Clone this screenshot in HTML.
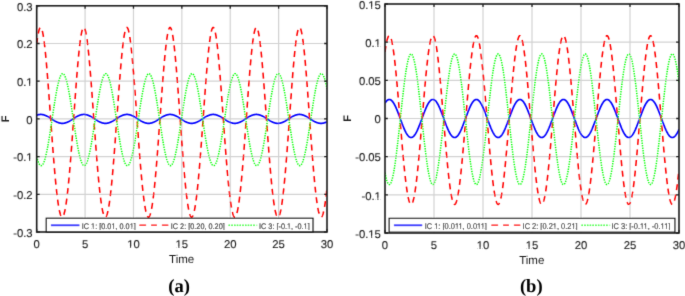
<!DOCTYPE html>
<html><head><meta charset="utf-8"><title>F vs Time</title>
<style>html,body{margin:0;padding:0;background:#fff;width:685px;height:296px;overflow:hidden}
svg{display:block;font-family:"Liberation Sans", sans-serif}</style></head>
<body>
<svg width="685" height="296" viewBox="0 0 685 296" text-rendering="geometricPrecision" font-family='"Liberation Sans", sans-serif'>
<defs><clipPath id="clipa"><rect x="36.7" y="5.8" width="290.3" height="226.2"/></clipPath><clipPath id="clipb"><rect x="385" y="4" width="294" height="229"/></clipPath><clipPath id="legclip"><rect x="0" y="200" width="685" height="29.9"/></clipPath><filter id="soft" x="0" y="0" width="685" height="296" filterUnits="userSpaceOnUse"><feConvolveMatrix order="3" kernelMatrix="0.0113 0.0838 0.0113 0.0838 0.6193 0.0838 0.0113 0.0838 0.0113" edgeMode="none"/></filter></defs>
<rect width="685" height="296" fill="#fff"/>
<g filter="url(#soft)">
<path d="M85.08 5.8V232M133.47 5.8V232M181.85 5.8V232M230.23 5.8V232M278.62 5.8V232M36.7 194.3H327M36.7 156.6H327M36.7 118.9H327M36.7 81.2H327M36.7 43.5H327" stroke="#d2d2d2" stroke-width="1.2" fill="none"/>
<path d="M36.7 115.21L36.89 115.14L37.09 115.08L37.28 115.01L37.47 114.95L37.67 114.9L37.86 114.84L38.05 114.79L38.25 114.75L38.44 114.7L38.64 114.66L38.83 114.63L39.02 114.59L39.22 114.56L39.41 114.54L39.6 114.51L39.8 114.5L39.99 114.48L40.18 114.47L40.38 114.46L40.57 114.45L40.76 114.45L40.96 114.45L41.15 114.46L41.34 114.47L41.54 114.48L41.73 114.5L41.93 114.51L42.12 114.54L42.31 114.56L42.51 114.59L42.7 114.63L42.89 114.66L43.09 114.7L43.28 114.75L43.47 114.79L43.67 114.84L43.86 114.9L44.05 114.95L44.25 115.01L44.44 115.08L44.63 115.14L44.83 115.21L45.02 115.28L45.22 115.36L45.41 115.43L45.6 115.51L45.8 115.6L45.99 115.68L46.18 115.77L46.38 115.86L46.57 115.95L46.76 116.05L46.96 116.14L47.15 116.24L47.34 116.35L47.54 116.45L47.73 116.55L47.92 116.66L48.12 116.77L48.31 116.88L48.51 117L48.7 117.11L48.89 117.22L49.09 117.34L49.28 117.46L49.47 117.58L49.67 117.7L49.86 117.82L50.05 117.94L50.25 118.07L50.44 118.19L50.63 118.31L50.83 118.44L51.02 118.56L51.22 118.69L51.41 118.81L51.6 118.94L51.8 119.06L51.99 119.19L52.18 119.32L52.38 119.44L52.57 119.56L52.76 119.69L52.96 119.81L53.15 119.93L53.34 120.06L53.54 120.18L53.73 120.3L53.92 120.41L54.12 120.53L54.31 120.65L54.51 120.76L54.7 120.88L54.89 120.99L55.09 121.1L55.28 121.21L55.47 121.31L55.67 121.42L55.86 121.52L56.05 121.62L56.25 121.72L56.44 121.81L56.63 121.91L56.83 122L57.02 122.09L57.21 122.17L57.41 122.26L57.6 122.34L57.8 122.42L57.99 122.49L58.18 122.56L58.38 122.63L58.57 122.7L58.76 122.76L58.96 122.82L59.15 122.88L59.34 122.94L59.54 122.99L59.73 123.04L59.92 123.08L60.12 123.12L60.31 123.16L60.5 123.19L60.7 123.23L60.89 123.25L61.09 123.28L61.28 123.3L61.47 123.31L61.67 123.33L61.86 123.34L62.05 123.35L62.25 123.35L62.44 123.35L62.63 123.34L62.83 123.34L63.02 123.33L63.21 123.31L63.41 123.29L63.6 123.27L63.79 123.25L63.99 123.22L64.18 123.19L64.38 123.15L64.57 123.11L64.76 123.07L64.96 123.02L65.15 122.98L65.34 122.92L65.54 122.87L65.73 122.81L65.92 122.75L66.12 122.68L66.31 122.62L66.5 122.55L66.7 122.47L66.89 122.4L67.08 122.32L67.28 122.24L67.47 122.15L67.67 122.06L67.86 121.98L68.05 121.88L68.25 121.79L68.44 121.69L68.63 121.59L68.83 121.49L69.02 121.39L69.21 121.29L69.41 121.18L69.6 121.07L69.79 120.96L69.99 120.85L70.18 120.73L70.37 120.62L70.57 120.5L70.76 120.38L70.96 120.27L71.15 120.15L71.34 120.02L71.54 119.9L71.73 119.78L71.92 119.66L72.12 119.53L72.31 119.41L72.5 119.28L72.7 119.16L72.89 119.03L73.08 118.91L73.28 118.78L73.47 118.66L73.66 118.53L73.86 118.41L74.05 118.28L74.25 118.16L74.44 118.04L74.63 117.91L74.83 117.79L75.02 117.67L75.21 117.55L75.41 117.43L75.6 117.31L75.79 117.2L75.99 117.08L76.18 116.97L76.37 116.85L76.57 116.74L76.76 116.64L76.95 116.53L77.15 116.42L77.34 116.32L77.54 116.22L77.73 116.12L77.92 116.02L78.12 115.93L78.31 115.84L78.5 115.75L78.7 115.66L78.89 115.57L79.08 115.49L79.28 115.41L79.47 115.34L79.66 115.26L79.86 115.19L80.05 115.12L80.25 115.06L80.44 115L80.63 114.94L80.83 114.88L81.02 114.83L81.21 114.78L81.41 114.74L81.6 114.69L81.79 114.65L81.99 114.62L82.18 114.59L82.37 114.56L82.57 114.53L82.76 114.51L82.95 114.49L83.15 114.48L83.34 114.46L83.54 114.46L83.73 114.45L83.92 114.45L84.12 114.45L84.31 114.46L84.5 114.47L84.7 114.48L84.89 114.5L85.08 114.52L85.28 114.54L85.47 114.57L85.66 114.6L85.86 114.64L86.05 114.67L86.24 114.71L86.44 114.76L86.63 114.81L86.83 114.86L87.02 114.91L87.21 114.97L87.41 115.03L87.6 115.09L87.79 115.16L87.99 115.23L88.18 115.3L88.37 115.37L88.57 115.45L88.76 115.53L88.95 115.62L89.15 115.7L89.34 115.79L89.53 115.88L89.73 115.97L89.92 116.07L90.12 116.17L90.31 116.27L90.5 116.37L90.7 116.48L90.89 116.58L91.08 116.69L91.28 116.8L91.47 116.91L91.66 117.02L91.86 117.14L92.05 117.25L92.24 117.37L92.44 117.49L92.63 117.61L92.82 117.73L93.02 117.85L93.21 117.97L93.41 118.1L93.6 118.22L93.79 118.34L93.99 118.47L94.18 118.59L94.37 118.72L94.57 118.85L94.76 118.97L94.95 119.1L95.15 119.22L95.34 119.35L95.53 119.47L95.73 119.6L95.92 119.72L96.11 119.84L96.31 119.96L96.5 120.09L96.7 120.21L96.89 120.33L97.08 120.44L97.28 120.56L97.47 120.68L97.66 120.79L97.86 120.9L98.05 121.01L98.24 121.12L98.44 121.23L98.63 121.34L98.82 121.44L99.02 121.54L99.21 121.64L99.4 121.74L99.6 121.84L99.79 121.93L99.99 122.02L100.18 122.11L100.37 122.19L100.57 122.28L100.76 122.36L100.95 122.44L101.15 122.51L101.34 122.58L101.53 122.65L101.73 122.72L101.92 122.78L102.11 122.84L102.31 122.9L102.5 122.95L102.69 123L102.89 123.05L103.08 123.09L103.28 123.13L103.47 123.17L103.66 123.2L103.86 123.23L104.05 123.26L104.24 123.28L104.44 123.3L104.63 123.32L104.82 123.33L105.02 123.34L105.21 123.35L105.4 123.35L105.6 123.35L105.79 123.34L105.98 123.33L106.18 123.32L106.37 123.31L106.57 123.29L106.76 123.27L106.95 123.24L107.15 123.21L107.34 123.18L107.53 123.14L107.73 123.1L107.92 123.06L108.11 123.01L108.31 122.96L108.5 122.91L108.69 122.85L108.89 122.8L109.08 122.73L109.28 122.67L109.47 122.6L109.66 122.53L109.86 122.45L110.05 122.38L110.24 122.3L110.44 122.22L110.63 122.13L110.82 122.04L111.02 121.95L111.21 121.86L111.4 121.77L111.6 121.67L111.79 121.57L111.98 121.47L112.18 121.36L112.37 121.26L112.57 121.15L112.76 121.04L112.95 120.93L113.15 120.82L113.34 120.71L113.53 120.59L113.73 120.47L113.92 120.35L114.11 120.24L114.31 120.12L114.5 119.99L114.69 119.87L114.89 119.75L115.08 119.63L115.27 119.5L115.47 119.38L115.66 119.25L115.86 119.13L116.05 119L116.24 118.88L116.44 118.75L116.63 118.63L116.82 118.5L117.02 118.38L117.21 118.25L117.4 118.13L117.6 118L117.79 117.88L117.98 117.76L118.18 117.64L118.37 117.52L118.56 117.4L118.76 117.28L118.95 117.17L119.15 117.05L119.34 116.94L119.53 116.83L119.73 116.72L119.92 116.61L120.11 116.5L120.31 116.4L120.5 116.29L120.69 116.19L120.89 116.09L121.08 116L121.27 115.9L121.47 115.81L121.66 115.72L121.85 115.64L122.05 115.55L122.24 115.47L122.44 115.39L122.63 115.32L122.82 115.24L123.02 115.17L123.21 115.11L123.4 115.04L123.6 114.98L123.79 114.92L123.98 114.87L124.18 114.82L124.37 114.77L124.56 114.73L124.76 114.68L124.95 114.65L125.14 114.61L125.34 114.58L125.53 114.55L125.73 114.53L125.92 114.5L126.11 114.49L126.31 114.47L126.5 114.46L126.69 114.46L126.89 114.45L127.08 114.45L127.27 114.46L127.47 114.46L127.66 114.47L127.85 114.49L128.05 114.5L128.24 114.53L128.43 114.55L128.63 114.58L128.82 114.61L129.02 114.65L129.21 114.68L129.4 114.73L129.6 114.77L129.79 114.82L129.98 114.87L130.18 114.92L130.37 114.98L130.56 115.04L130.76 115.11L130.95 115.17L131.14 115.24L131.34 115.32L131.53 115.39L131.72 115.47L131.92 115.55L132.11 115.64L132.31 115.72L132.5 115.81L132.69 115.9L132.89 116L133.08 116.09L133.27 116.19L133.47 116.29L133.66 116.4L133.85 116.5L134.05 116.61L134.24 116.72L134.43 116.83L134.63 116.94L134.82 117.05L135.01 117.17L135.21 117.28L135.4 117.4L135.6 117.52L135.79 117.64L135.98 117.76L136.18 117.88L136.37 118L136.56 118.13L136.76 118.25L136.95 118.38L137.14 118.5L137.34 118.63L137.53 118.75L137.72 118.88L137.92 119L138.11 119.13L138.31 119.25L138.5 119.38L138.69 119.5L138.89 119.63L139.08 119.75L139.27 119.87L139.47 119.99L139.66 120.12L139.85 120.24L140.05 120.35L140.24 120.47L140.43 120.59L140.63 120.71L140.82 120.82L141.01 120.93L141.21 121.04L141.4 121.15L141.6 121.26L141.79 121.36L141.98 121.47L142.18 121.57L142.37 121.67L142.56 121.77L142.76 121.86L142.95 121.95L143.14 122.04L143.34 122.13L143.53 122.22L143.72 122.3L143.92 122.38L144.11 122.45L144.3 122.53L144.5 122.6L144.69 122.67L144.89 122.73L145.08 122.8L145.27 122.85L145.47 122.91L145.66 122.96L145.85 123.01L146.05 123.06L146.24 123.1L146.43 123.14L146.63 123.18L146.82 123.21L147.01 123.24L147.21 123.27L147.4 123.29L147.59 123.31L147.79 123.32L147.98 123.33L148.18 123.34L148.37 123.35L148.56 123.35L148.76 123.35L148.95 123.34L149.14 123.33L149.34 123.32L149.53 123.3L149.72 123.28L149.92 123.26L150.11 123.23L150.3 123.2L150.5 123.17L150.69 123.13L150.88 123.09L151.08 123.05L151.27 123L151.47 122.95L151.66 122.9L151.85 122.84L152.05 122.78L152.24 122.72L152.43 122.65L152.63 122.58L152.82 122.51L153.01 122.44L153.21 122.36L153.4 122.28L153.59 122.19L153.79 122.11L153.98 122.02L154.17 121.93L154.37 121.84L154.56 121.74L154.76 121.64L154.95 121.54L155.14 121.44L155.34 121.34L155.53 121.23L155.72 121.12L155.92 121.01L156.11 120.9L156.3 120.79L156.5 120.68L156.69 120.56L156.88 120.44L157.08 120.33L157.27 120.21L157.46 120.09L157.66 119.96L157.85 119.84L158.05 119.72L158.24 119.6L158.43 119.47L158.63 119.35L158.82 119.22L159.01 119.1L159.21 118.97L159.4 118.85L159.59 118.72L159.79 118.59L159.98 118.47L160.17 118.34L160.37 118.22L160.56 118.1L160.75 117.97L160.95 117.85L161.14 117.73L161.34 117.61L161.53 117.49L161.72 117.37L161.92 117.25L162.11 117.14L162.3 117.02L162.5 116.91L162.69 116.8L162.88 116.69L163.08 116.58L163.27 116.48L163.46 116.37L163.66 116.27L163.85 116.17L164.04 116.07L164.24 115.97L164.43 115.88L164.63 115.79L164.82 115.7L165.01 115.62L165.21 115.53L165.4 115.45L165.59 115.37L165.79 115.3L165.98 115.23L166.17 115.16L166.37 115.09L166.56 115.03L166.75 114.97L166.95 114.91L167.14 114.86L167.34 114.81L167.53 114.76L167.72 114.71L167.92 114.67L168.11 114.64L168.3 114.6L168.5 114.57L168.69 114.54L168.88 114.52L169.08 114.5L169.27 114.48L169.46 114.47L169.66 114.46L169.85 114.45L170.04 114.45L170.24 114.45L170.43 114.46L170.63 114.46L170.82 114.48L171.01 114.49L171.21 114.51L171.4 114.53L171.59 114.56L171.79 114.59L171.98 114.62L172.17 114.65L172.37 114.69L172.56 114.74L172.75 114.78L172.95 114.83L173.14 114.88L173.33 114.94L173.53 115L173.72 115.06L173.92 115.12L174.11 115.19L174.3 115.26L174.5 115.34L174.69 115.41L174.88 115.49L175.08 115.57L175.27 115.66L175.46 115.75L175.66 115.84L175.85 115.93L176.04 116.02L176.24 116.12L176.43 116.22L176.62 116.32L176.82 116.42L177.01 116.53L177.21 116.64L177.4 116.74L177.59 116.85L177.79 116.97L177.98 117.08L178.17 117.2L178.37 117.31L178.56 117.43L178.75 117.55L178.95 117.67L179.14 117.79L179.33 117.91L179.53 118.04L179.72 118.16L179.91 118.28L180.11 118.41L180.3 118.53L180.5 118.66L180.69 118.78L180.88 118.91L181.08 119.03L181.27 119.16L181.46 119.28L181.66 119.41L181.85 119.53L182.04 119.66L182.24 119.78L182.43 119.9L182.62 120.02L182.82 120.15L183.01 120.27L183.2 120.38L183.4 120.5L183.59 120.62L183.79 120.73L183.98 120.85L184.17 120.96L184.37 121.07L184.56 121.18L184.75 121.29L184.95 121.39L185.14 121.49L185.33 121.59L185.53 121.69L185.72 121.79L185.91 121.88L186.11 121.98L186.3 122.06L186.49 122.15L186.69 122.24L186.88 122.32L187.08 122.4L187.27 122.47L187.46 122.55L187.66 122.62L187.85 122.68L188.04 122.75L188.24 122.81L188.43 122.87L188.62 122.92L188.82 122.98L189.01 123.02L189.2 123.07L189.4 123.11L189.59 123.15L189.78 123.19L189.98 123.22L190.17 123.25L190.37 123.27L190.56 123.29L190.75 123.31L190.95 123.33L191.14 123.34L191.33 123.34L191.53 123.35L191.72 123.35L191.91 123.35L192.11 123.34L192.3 123.33L192.49 123.31L192.69 123.3L192.88 123.28L193.07 123.25L193.27 123.23L193.46 123.19L193.66 123.16L193.85 123.12L194.04 123.08L194.24 123.04L194.43 122.99L194.62 122.94L194.82 122.88L195.01 122.82L195.2 122.76L195.4 122.7L195.59 122.63L195.78 122.56L195.98 122.49L196.17 122.42L196.37 122.34L196.56 122.26L196.75 122.17L196.95 122.09L197.14 122L197.33 121.91L197.53 121.81L197.72 121.72L197.91 121.62L198.11 121.52L198.3 121.42L198.49 121.31L198.69 121.21L198.88 121.1L199.07 120.99L199.27 120.88L199.46 120.76L199.66 120.65L199.85 120.53L200.04 120.41L200.24 120.3L200.43 120.18L200.62 120.06L200.82 119.93L201.01 119.81L201.2 119.69L201.4 119.56L201.59 119.44L201.78 119.32L201.98 119.19L202.17 119.06L202.36 118.94L202.56 118.81L202.75 118.69L202.95 118.56L203.14 118.44L203.33 118.31L203.53 118.19L203.72 118.07L203.91 117.94L204.11 117.82L204.3 117.7L204.49 117.58L204.69 117.46L204.88 117.34L205.07 117.22L205.27 117.11L205.46 117L205.65 116.88L205.85 116.77L206.04 116.66L206.24 116.55L206.43 116.45L206.62 116.35L206.82 116.24L207.01 116.14L207.2 116.05L207.4 115.95L207.59 115.86L207.78 115.77L207.98 115.68L208.17 115.6L208.36 115.51L208.56 115.43L208.75 115.36L208.94 115.28L209.14 115.21L209.33 115.14L209.53 115.08L209.72 115.01L209.91 114.95L210.11 114.9L210.3 114.84L210.49 114.79L210.69 114.75L210.88 114.7L211.07 114.66L211.27 114.63L211.46 114.59L211.65 114.56L211.85 114.54L212.04 114.51L212.23 114.5L212.43 114.48L212.62 114.47L212.82 114.46L213.01 114.45L213.2 114.45L213.4 114.45L213.59 114.46L213.78 114.47L213.98 114.48L214.17 114.5L214.36 114.51L214.56 114.54L214.75 114.56L214.94 114.59L215.14 114.63L215.33 114.66L215.52 114.7L215.72 114.75L215.91 114.79L216.11 114.84L216.3 114.9L216.49 114.95L216.69 115.01L216.88 115.08L217.07 115.14L217.27 115.21L217.46 115.28L217.65 115.36L217.85 115.43L218.04 115.51L218.23 115.6L218.43 115.68L218.62 115.77L218.81 115.86L219.01 115.95L219.2 116.05L219.4 116.14L219.59 116.24L219.78 116.35L219.98 116.45L220.17 116.55L220.36 116.66L220.56 116.77L220.75 116.88L220.94 117L221.14 117.11L221.33 117.22L221.52 117.34L221.72 117.46L221.91 117.58L222.1 117.7L222.3 117.82L222.49 117.94L222.69 118.07L222.88 118.19L223.07 118.31L223.27 118.44L223.46 118.56L223.65 118.69L223.85 118.81L224.04 118.94L224.23 119.06L224.43 119.19L224.62 119.32L224.81 119.44L225.01 119.56L225.2 119.69L225.4 119.81L225.59 119.93L225.78 120.06L225.98 120.18L226.17 120.3L226.36 120.41L226.56 120.53L226.75 120.65L226.94 120.76L227.14 120.88L227.33 120.99L227.52 121.1L227.72 121.21L227.91 121.31L228.1 121.42L228.3 121.52L228.49 121.62L228.69 121.72L228.88 121.81L229.07 121.91L229.27 122L229.46 122.09L229.65 122.17L229.85 122.26L230.04 122.34L230.23 122.42L230.43 122.49L230.62 122.56L230.81 122.63L231.01 122.7L231.2 122.76L231.39 122.82L231.59 122.88L231.78 122.94L231.98 122.99L232.17 123.04L232.36 123.08L232.56 123.12L232.75 123.16L232.94 123.19L233.14 123.23L233.33 123.25L233.52 123.28L233.72 123.3L233.91 123.31L234.1 123.33L234.3 123.34L234.49 123.35L234.68 123.35L234.88 123.35L235.07 123.34L235.27 123.34L235.46 123.33L235.65 123.31L235.85 123.29L236.04 123.27L236.23 123.25L236.43 123.22L236.62 123.19L236.81 123.15L237.01 123.11L237.2 123.07L237.39 123.02L237.59 122.98L237.78 122.92L237.97 122.87L238.17 122.81L238.36 122.75L238.56 122.68L238.75 122.62L238.94 122.55L239.14 122.47L239.33 122.4L239.52 122.32L239.72 122.24L239.91 122.15L240.1 122.06L240.3 121.98L240.49 121.88L240.68 121.79L240.88 121.69L241.07 121.59L241.26 121.49L241.46 121.39L241.65 121.29L241.85 121.18L242.04 121.07L242.23 120.96L242.43 120.85L242.62 120.73L242.81 120.62L243.01 120.5L243.2 120.38L243.39 120.27L243.59 120.15L243.78 120.02L243.97 119.9L244.17 119.78L244.36 119.66L244.55 119.53L244.75 119.41L244.94 119.28L245.14 119.16L245.33 119.03L245.52 118.91L245.72 118.78L245.91 118.66L246.1 118.53L246.3 118.41L246.49 118.28L246.68 118.16L246.88 118.04L247.07 117.91L247.26 117.79L247.46 117.67L247.65 117.55L247.84 117.43L248.04 117.31L248.23 117.2L248.43 117.08L248.62 116.97L248.81 116.85L249.01 116.74L249.2 116.64L249.39 116.53L249.59 116.42L249.78 116.32L249.97 116.22L250.17 116.12L250.36 116.02L250.55 115.93L250.75 115.84L250.94 115.75L251.13 115.66L251.33 115.57L251.52 115.49L251.72 115.41L251.91 115.34L252.1 115.26L252.3 115.19L252.49 115.12L252.68 115.06L252.88 115L253.07 114.94L253.26 114.88L253.46 114.83L253.65 114.78L253.84 114.74L254.04 114.69L254.23 114.65L254.43 114.62L254.62 114.59L254.81 114.56L255.01 114.53L255.2 114.51L255.39 114.49L255.59 114.48L255.78 114.46L255.97 114.46L256.17 114.45L256.36 114.45L256.55 114.45L256.75 114.46L256.94 114.47L257.13 114.48L257.33 114.5L257.52 114.52L257.72 114.54L257.91 114.57L258.1 114.6L258.3 114.64L258.49 114.67L258.68 114.71L258.88 114.76L259.07 114.81L259.26 114.86L259.46 114.91L259.65 114.97L259.84 115.03L260.04 115.09L260.23 115.16L260.42 115.23L260.62 115.3L260.81 115.37L261.01 115.45L261.2 115.53L261.39 115.62L261.59 115.7L261.78 115.79L261.97 115.88L262.17 115.97L262.36 116.07L262.55 116.17L262.75 116.27L262.94 116.37L263.13 116.48L263.33 116.58L263.52 116.69L263.71 116.8L263.91 116.91L264.1 117.02L264.3 117.14L264.49 117.25L264.68 117.37L264.88 117.49L265.07 117.61L265.26 117.73L265.46 117.85L265.65 117.97L265.84 118.1L266.04 118.22L266.23 118.34L266.42 118.47L266.62 118.59L266.81 118.72L267 118.85L267.2 118.97L267.39 119.1L267.59 119.22L267.78 119.35L267.97 119.47L268.17 119.6L268.36 119.72L268.55 119.84L268.75 119.96L268.94 120.09L269.13 120.21L269.33 120.33L269.52 120.44L269.71 120.56L269.91 120.68L270.1 120.79L270.29 120.9L270.49 121.01L270.68 121.12L270.88 121.23L271.07 121.34L271.26 121.44L271.46 121.54L271.65 121.64L271.84 121.74L272.04 121.84L272.23 121.93L272.42 122.02L272.62 122.11L272.81 122.19L273 122.28L273.2 122.36L273.39 122.44L273.58 122.51L273.78 122.58L273.97 122.65L274.17 122.72L274.36 122.78L274.55 122.84L274.75 122.9L274.94 122.95L275.13 123L275.33 123.05L275.52 123.09L275.71 123.13L275.91 123.17L276.1 123.2L276.29 123.23L276.49 123.26L276.68 123.28L276.87 123.3L277.07 123.32L277.26 123.33L277.46 123.34L277.65 123.35L277.84 123.35L278.04 123.35L278.23 123.34L278.42 123.33L278.62 123.32L278.81 123.31L279 123.29L279.2 123.27L279.39 123.24L279.58 123.21L279.78 123.18L279.97 123.14L280.16 123.1L280.36 123.06L280.55 123.01L280.75 122.96L280.94 122.91L281.13 122.85L281.33 122.8L281.52 122.73L281.71 122.67L281.91 122.6L282.1 122.53L282.29 122.45L282.49 122.38L282.68 122.3L282.87 122.22L283.07 122.13L283.26 122.04L283.46 121.95L283.65 121.86L283.84 121.77L284.04 121.67L284.23 121.57L284.42 121.47L284.62 121.36L284.81 121.26L285 121.15L285.2 121.04L285.39 120.93L285.58 120.82L285.78 120.71L285.97 120.59L286.16 120.47L286.36 120.35L286.55 120.24L286.75 120.12L286.94 119.99L287.13 119.87L287.33 119.75L287.52 119.63L287.71 119.5L287.91 119.38L288.1 119.25L288.29 119.13L288.49 119L288.68 118.88L288.87 118.75L289.07 118.63L289.26 118.5L289.45 118.38L289.65 118.25L289.84 118.13L290.04 118L290.23 117.88L290.42 117.76L290.62 117.64L290.81 117.52L291 117.4L291.2 117.28L291.39 117.17L291.58 117.05L291.78 116.94L291.97 116.83L292.16 116.72L292.36 116.61L292.55 116.5L292.74 116.4L292.94 116.29L293.13 116.19L293.33 116.09L293.52 116L293.71 115.9L293.91 115.81L294.1 115.72L294.29 115.64L294.49 115.55L294.68 115.47L294.87 115.39L295.07 115.32L295.26 115.24L295.45 115.17L295.65 115.11L295.84 115.04L296.03 114.98L296.23 114.92L296.42 114.87L296.62 114.82L296.81 114.77L297 114.73L297.2 114.68L297.39 114.65L297.58 114.61L297.78 114.58L297.97 114.55L298.16 114.53L298.36 114.5L298.55 114.49L298.74 114.47L298.94 114.46L299.13 114.46L299.32 114.45L299.52 114.45L299.71 114.46L299.91 114.46L300.1 114.47L300.29 114.49L300.49 114.5L300.68 114.53L300.87 114.55L301.07 114.58L301.26 114.61L301.45 114.65L301.65 114.68L301.84 114.73L302.03 114.77L302.23 114.82L302.42 114.87L302.61 114.92L302.81 114.98L303 115.04L303.2 115.11L303.39 115.17L303.58 115.24L303.78 115.32L303.97 115.39L304.16 115.47L304.36 115.55L304.55 115.64L304.74 115.72L304.94 115.81L305.13 115.9L305.32 116L305.52 116.09L305.71 116.19L305.9 116.29L306.1 116.4L306.29 116.5L306.49 116.61L306.68 116.72L306.87 116.83L307.07 116.94L307.26 117.05L307.45 117.17L307.65 117.28L307.84 117.4L308.03 117.52L308.23 117.64L308.42 117.76L308.61 117.88L308.81 118L309 118.13L309.19 118.25L309.39 118.38L309.58 118.5L309.78 118.63L309.97 118.75L310.16 118.88L310.36 119L310.55 119.13L310.74 119.25L310.94 119.38L311.13 119.5L311.32 119.63L311.52 119.75L311.71 119.87L311.9 119.99L312.1 120.12L312.29 120.24L312.49 120.35L312.68 120.47L312.87 120.59L313.07 120.71L313.26 120.82L313.45 120.93L313.65 121.04L313.84 121.15L314.03 121.26L314.23 121.36L314.42 121.47L314.61 121.57L314.81 121.67L315 121.77L315.19 121.86L315.39 121.95L315.58 122.04L315.78 122.13L315.97 122.22L316.16 122.3L316.36 122.38L316.55 122.45L316.74 122.53L316.94 122.6L317.13 122.67L317.32 122.73L317.52 122.8L317.71 122.85L317.9 122.91L318.1 122.96L318.29 123.01L318.48 123.06L318.68 123.1L318.87 123.14L319.07 123.18L319.26 123.21L319.45 123.24L319.65 123.27L319.84 123.29L320.03 123.31L320.23 123.32L320.42 123.33L320.61 123.34L320.81 123.35L321 123.35L321.19 123.35L321.39 123.34L321.58 123.33L321.77 123.32L321.97 123.3L322.16 123.28L322.36 123.26L322.55 123.23L322.74 123.2L322.94 123.17L323.13 123.13L323.32 123.09L323.52 123.05L323.71 123L323.9 122.95L324.1 122.9L324.29 122.84L324.48 122.78L324.68 122.72L324.87 122.65L325.06 122.58L325.26 122.51L325.45 122.44L325.65 122.36L325.84 122.28L326.03 122.19L326.23 122.11L326.42 122.02L326.61 121.93L326.81 121.84L327 121.74" stroke="#0000ff" stroke-width="1.7" fill="none" clip-path="url(#clipa)"/>
<path d="M36.7 43.97L36.89 42.41L37.09 40.92L37.28 39.51L37.47 38.17L37.67 36.9L37.86 35.71L38.05 34.59L38.25 33.55L38.44 32.59L38.64 31.71L38.83 30.91L39.02 30.2L39.22 29.56L39.41 29.01L39.6 28.54L39.8 28.16L39.99 27.86L40.18 27.65L40.38 27.52L40.57 27.48L40.76 27.52L40.96 27.65L41.15 27.86L41.34 28.16L41.54 28.54L41.73 29.01L41.93 29.56L42.12 30.2L42.31 30.91L42.51 31.71L42.7 32.59L42.89 33.55L43.09 34.59L43.28 35.71L43.47 36.9L43.67 38.17L43.86 39.51L44.05 40.92L44.25 42.41L44.44 43.97L44.63 45.59L44.83 47.28L45.02 49.03L45.22 50.85L45.41 52.73L45.6 54.67L45.8 56.66L45.99 58.71L46.18 60.81L46.38 62.97L46.57 65.17L46.76 67.42L46.96 69.71L47.15 72.05L47.34 74.42L47.54 76.83L47.73 79.28L47.92 81.76L48.12 84.27L48.31 86.81L48.51 89.38L48.7 91.97L48.89 94.58L49.09 97.21L49.28 99.85L49.47 102.51L49.67 105.18L49.86 107.86L50.05 110.55L50.25 113.24L50.44 115.94L50.63 118.63L50.83 121.32L51.02 124.01L51.22 126.7L51.41 129.37L51.6 132.03L51.8 134.68L51.99 137.32L52.18 139.94L52.38 142.54L52.57 145.12L52.76 147.67L52.96 150.2L53.15 152.71L53.34 155.19L53.54 157.63L53.73 160.05L53.92 162.43L54.12 164.78L54.31 167.09L54.51 169.36L54.7 171.59L54.89 173.79L55.09 175.94L55.28 178.04L55.47 180.1L55.67 182.12L55.86 184.09L56.05 186.01L56.25 187.88L56.44 189.7L56.63 191.46L56.83 193.18L57.02 194.84L57.21 196.45L57.41 198L57.6 199.49L57.8 200.93L57.99 202.31L58.18 203.64L58.38 204.9L58.57 206.11L58.76 207.25L58.96 208.33L59.15 209.36L59.34 210.32L59.54 211.22L59.73 212.05L59.92 212.82L60.12 213.53L60.31 214.18L60.5 214.76L60.7 215.28L60.89 215.74L61.09 216.12L61.28 216.45L61.47 216.71L61.67 216.91L61.86 217.04L62.05 217.1L62.25 217.1L62.44 217.04L62.63 216.91L62.83 216.71L63.02 216.45L63.21 216.12L63.41 215.74L63.6 215.28L63.79 214.76L63.99 214.18L64.18 213.53L64.38 212.82L64.57 212.05L64.76 211.22L64.96 210.32L65.15 209.36L65.34 208.33L65.54 207.25L65.73 206.11L65.92 204.9L66.12 203.64L66.31 202.31L66.5 200.93L66.7 199.49L66.89 198L67.08 196.45L67.28 194.84L67.47 193.18L67.67 191.46L67.86 189.7L68.05 187.88L68.25 186.01L68.44 184.09L68.63 182.12L68.83 180.1L69.02 178.04L69.21 175.94L69.41 173.79L69.6 171.59L69.79 169.36L69.99 167.09L70.18 164.78L70.37 162.43L70.57 160.05L70.76 157.63L70.96 155.19L71.15 152.71L71.34 150.2L71.54 147.67L71.73 145.12L71.92 142.54L72.12 139.94L72.31 137.32L72.5 134.68L72.7 132.03L72.89 129.37L73.08 126.7L73.28 124.01L73.47 121.32L73.66 118.63L73.86 115.94L74.05 113.24L74.25 110.55L74.44 107.86L74.63 105.18L74.83 102.51L75.02 99.85L75.21 97.21L75.41 94.58L75.6 91.97L75.79 89.38L75.99 86.81L76.18 84.27L76.37 81.76L76.57 79.28L76.76 76.83L76.95 74.42L77.15 72.05L77.34 69.71L77.54 67.42L77.73 65.17L77.92 62.97L78.12 60.81L78.31 58.71L78.5 56.66L78.7 54.67L78.89 52.73L79.08 50.85L79.28 49.03L79.47 47.28L79.66 45.59L79.86 43.97L80.05 42.41L80.25 40.92L80.44 39.51L80.63 38.17L80.83 36.9L81.02 35.71L81.21 34.59L81.41 33.55L81.6 32.59L81.79 31.71L81.99 30.91L82.18 30.2L82.37 29.56L82.57 29.01L82.76 28.54L82.95 28.16L83.15 27.86L83.34 27.65L83.54 27.52L83.73 27.48L83.92 27.52L84.12 27.65L84.31 27.86L84.5 28.16L84.7 28.54L84.89 29.01L85.08 29.56L85.28 30.2L85.47 30.91L85.66 31.71L85.86 32.59L86.05 33.55L86.24 34.59L86.44 35.71L86.63 36.9L86.83 38.17L87.02 39.51L87.21 40.92L87.41 42.41L87.6 43.97L87.79 45.59L87.99 47.28L88.18 49.03L88.37 50.85L88.57 52.73L88.76 54.67L88.95 56.66L89.15 58.71L89.34 60.81L89.53 62.97L89.73 65.17L89.92 67.42L90.12 69.71L90.31 72.05L90.5 74.42L90.7 76.83L90.89 79.28L91.08 81.76L91.28 84.27L91.47 86.81L91.66 89.38L91.86 91.97L92.05 94.58L92.24 97.21L92.44 99.85L92.63 102.51L92.82 105.18L93.02 107.86L93.21 110.55L93.41 113.24L93.6 115.94L93.79 118.63L93.99 121.32L94.18 124.01L94.37 126.7L94.57 129.37L94.76 132.03L94.95 134.68L95.15 137.32L95.34 139.94L95.53 142.54L95.73 145.12L95.92 147.67L96.11 150.2L96.31 152.71L96.5 155.19L96.7 157.63L96.89 160.05L97.08 162.43L97.28 164.78L97.47 167.09L97.66 169.36L97.86 171.59L98.05 173.79L98.24 175.94L98.44 178.04L98.63 180.1L98.82 182.12L99.02 184.09L99.21 186.01L99.4 187.88L99.6 189.7L99.79 191.46L99.99 193.18L100.18 194.84L100.37 196.45L100.57 198L100.76 199.49L100.95 200.93L101.15 202.31L101.34 203.64L101.53 204.9L101.73 206.11L101.92 207.25L102.11 208.33L102.31 209.36L102.5 210.32L102.69 211.22L102.89 212.05L103.08 212.82L103.28 213.53L103.47 214.18L103.66 214.76L103.86 215.28L104.05 215.74L104.24 216.12L104.44 216.45L104.63 216.71L104.82 216.91L105.02 217.04L105.21 217.1L105.4 217.1L105.6 217.04L105.79 216.91L105.98 216.71L106.18 216.45L106.37 216.12L106.57 215.74L106.76 215.28L106.95 214.76L107.15 214.18L107.34 213.53L107.53 212.82L107.73 212.05L107.92 211.22L108.11 210.32L108.31 209.36L108.5 208.33L108.69 207.25L108.89 206.11L109.08 204.9L109.28 203.64L109.47 202.31L109.66 200.93L109.86 199.49L110.05 198L110.24 196.45L110.44 194.84L110.63 193.18L110.82 191.46L111.02 189.7L111.21 187.88L111.4 186.01L111.6 184.09L111.79 182.12L111.98 180.1L112.18 178.04L112.37 175.94L112.57 173.79L112.76 171.59L112.95 169.36L113.15 167.09L113.34 164.78L113.53 162.43L113.73 160.05L113.92 157.63L114.11 155.19L114.31 152.71L114.5 150.2L114.69 147.67L114.89 145.12L115.08 142.54L115.27 139.94L115.47 137.32L115.66 134.68L115.86 132.03L116.05 129.37L116.24 126.7L116.44 124.01L116.63 121.32L116.82 118.63L117.02 115.94L117.21 113.24L117.4 110.55L117.6 107.86L117.79 105.18L117.98 102.51L118.18 99.85L118.37 97.21L118.56 94.58L118.76 91.97L118.95 89.38L119.15 86.81L119.34 84.27L119.53 81.76L119.73 79.28L119.92 76.83L120.11 74.42L120.31 72.05L120.5 69.71L120.69 67.42L120.89 65.17L121.08 62.97L121.27 60.81L121.47 58.71L121.66 56.66L121.85 54.67L122.05 52.73L122.24 50.85L122.44 49.03L122.63 47.28L122.82 45.59L123.02 43.97L123.21 42.41L123.4 40.92L123.6 39.51L123.79 38.17L123.98 36.9L124.18 35.71L124.37 34.59L124.56 33.55L124.76 32.59L124.95 31.71L125.14 30.91L125.34 30.2L125.53 29.56L125.73 29.01L125.92 28.54L126.11 28.16L126.31 27.86L126.5 27.65L126.69 27.52L126.89 27.48L127.08 27.52L127.27 27.65L127.47 27.86L127.66 28.16L127.85 28.54L128.05 29.01L128.24 29.56L128.43 30.2L128.63 30.91L128.82 31.71L129.02 32.59L129.21 33.55L129.4 34.59L129.6 35.71L129.79 36.9L129.98 38.17L130.18 39.51L130.37 40.92L130.56 42.41L130.76 43.97L130.95 45.59L131.14 47.28L131.34 49.03L131.53 50.85L131.72 52.73L131.92 54.67L132.11 56.66L132.31 58.71L132.5 60.81L132.69 62.97L132.89 65.17L133.08 67.42L133.27 69.71L133.47 72.05L133.66 74.42L133.85 76.83L134.05 79.28L134.24 81.76L134.43 84.27L134.63 86.81L134.82 89.38L135.01 91.97L135.21 94.58L135.4 97.21L135.6 99.85L135.79 102.51L135.98 105.18L136.18 107.86L136.37 110.55L136.56 113.24L136.76 115.94L136.95 118.63L137.14 121.32L137.34 124.01L137.53 126.7L137.72 129.37L137.92 132.03L138.11 134.68L138.31 137.32L138.5 139.94L138.69 142.54L138.89 145.12L139.08 147.67L139.27 150.2L139.47 152.71L139.66 155.19L139.85 157.63L140.05 160.05L140.24 162.43L140.43 164.78L140.63 167.09L140.82 169.36L141.01 171.59L141.21 173.79L141.4 175.94L141.6 178.04L141.79 180.1L141.98 182.12L142.18 184.09L142.37 186.01L142.56 187.88L142.76 189.7L142.95 191.46L143.14 193.18L143.34 194.84L143.53 196.45L143.72 198L143.92 199.49L144.11 200.93L144.3 202.31L144.5 203.64L144.69 204.9L144.89 206.11L145.08 207.25L145.27 208.33L145.47 209.36L145.66 210.32L145.85 211.22L146.05 212.05L146.24 212.82L146.43 213.53L146.63 214.18L146.82 214.76L147.01 215.28L147.21 215.74L147.4 216.12L147.59 216.45L147.79 216.71L147.98 216.91L148.18 217.04L148.37 217.1L148.56 217.1L148.76 217.04L148.95 216.91L149.14 216.71L149.34 216.45L149.53 216.12L149.72 215.74L149.92 215.28L150.11 214.76L150.3 214.18L150.5 213.53L150.69 212.82L150.88 212.05L151.08 211.22L151.27 210.32L151.47 209.36L151.66 208.33L151.85 207.25L152.05 206.11L152.24 204.9L152.43 203.64L152.63 202.31L152.82 200.93L153.01 199.49L153.21 198L153.4 196.45L153.59 194.84L153.79 193.18L153.98 191.46L154.17 189.7L154.37 187.88L154.56 186.01L154.76 184.09L154.95 182.12L155.14 180.1L155.34 178.04L155.53 175.94L155.72 173.79L155.92 171.59L156.11 169.36L156.3 167.09L156.5 164.78L156.69 162.43L156.88 160.05L157.08 157.63L157.27 155.19L157.46 152.71L157.66 150.2L157.85 147.67L158.05 145.12L158.24 142.54L158.43 139.94L158.63 137.32L158.82 134.68L159.01 132.03L159.21 129.37L159.4 126.7L159.59 124.01L159.79 121.32L159.98 118.63L160.17 115.94L160.37 113.24L160.56 110.55L160.75 107.86L160.95 105.18L161.14 102.51L161.34 99.85L161.53 97.21L161.72 94.58L161.92 91.97L162.11 89.38L162.3 86.81L162.5 84.27L162.69 81.76L162.88 79.28L163.08 76.83L163.27 74.42L163.46 72.05L163.66 69.71L163.85 67.42L164.04 65.17L164.24 62.97L164.43 60.81L164.63 58.71L164.82 56.66L165.01 54.67L165.21 52.73L165.4 50.85L165.59 49.03L165.79 47.28L165.98 45.59L166.17 43.97L166.37 42.41L166.56 40.92L166.75 39.51L166.95 38.17L167.14 36.9L167.34 35.71L167.53 34.59L167.72 33.55L167.92 32.59L168.11 31.71L168.3 30.91L168.5 30.2L168.69 29.56L168.88 29.01L169.08 28.54L169.27 28.16L169.46 27.86L169.66 27.65L169.85 27.52L170.04 27.48L170.24 27.52L170.43 27.65L170.63 27.86L170.82 28.16L171.01 28.54L171.21 29.01L171.4 29.56L171.59 30.2L171.79 30.91L171.98 31.71L172.17 32.59L172.37 33.55L172.56 34.59L172.75 35.71L172.95 36.9L173.14 38.17L173.33 39.51L173.53 40.92L173.72 42.41L173.92 43.97L174.11 45.59L174.3 47.28L174.5 49.03L174.69 50.85L174.88 52.73L175.08 54.67L175.27 56.66L175.46 58.71L175.66 60.81L175.85 62.97L176.04 65.17L176.24 67.42L176.43 69.71L176.62 72.05L176.82 74.42L177.01 76.83L177.21 79.28L177.4 81.76L177.59 84.27L177.79 86.81L177.98 89.38L178.17 91.97L178.37 94.58L178.56 97.21L178.75 99.85L178.95 102.51L179.14 105.18L179.33 107.86L179.53 110.55L179.72 113.24L179.91 115.94L180.11 118.63L180.3 121.32L180.5 124.01L180.69 126.7L180.88 129.37L181.08 132.03L181.27 134.68L181.46 137.32L181.66 139.94L181.85 142.54L182.04 145.12L182.24 147.67L182.43 150.2L182.62 152.71L182.82 155.19L183.01 157.63L183.2 160.05L183.4 162.43L183.59 164.78L183.79 167.09L183.98 169.36L184.17 171.59L184.37 173.79L184.56 175.94L184.75 178.04L184.95 180.1L185.14 182.12L185.33 184.09L185.53 186.01L185.72 187.88L185.91 189.7L186.11 191.46L186.3 193.18L186.49 194.84L186.69 196.45L186.88 198L187.08 199.49L187.27 200.93L187.46 202.31L187.66 203.64L187.85 204.9L188.04 206.11L188.24 207.25L188.43 208.33L188.62 209.36L188.82 210.32L189.01 211.22L189.2 212.05L189.4 212.82L189.59 213.53L189.78 214.18L189.98 214.76L190.17 215.28L190.37 215.74L190.56 216.12L190.75 216.45L190.95 216.71L191.14 216.91L191.33 217.04L191.53 217.1L191.72 217.1L191.91 217.04L192.11 216.91L192.3 216.71L192.49 216.45L192.69 216.12L192.88 215.74L193.07 215.28L193.27 214.76L193.46 214.18L193.66 213.53L193.85 212.82L194.04 212.05L194.24 211.22L194.43 210.32L194.62 209.36L194.82 208.33L195.01 207.25L195.2 206.11L195.4 204.9L195.59 203.64L195.78 202.31L195.98 200.93L196.17 199.49L196.37 198L196.56 196.45L196.75 194.84L196.95 193.18L197.14 191.46L197.33 189.7L197.53 187.88L197.72 186.01L197.91 184.09L198.11 182.12L198.3 180.1L198.49 178.04L198.69 175.94L198.88 173.79L199.07 171.59L199.27 169.36L199.46 167.09L199.66 164.78L199.85 162.43L200.04 160.05L200.24 157.63L200.43 155.19L200.62 152.71L200.82 150.2L201.01 147.67L201.2 145.12L201.4 142.54L201.59 139.94L201.78 137.32L201.98 134.68L202.17 132.03L202.36 129.37L202.56 126.7L202.75 124.01L202.95 121.32L203.14 118.63L203.33 115.94L203.53 113.24L203.72 110.55L203.91 107.86L204.11 105.18L204.3 102.51L204.49 99.85L204.69 97.21L204.88 94.58L205.07 91.97L205.27 89.38L205.46 86.81L205.65 84.27L205.85 81.76L206.04 79.28L206.24 76.83L206.43 74.42L206.62 72.05L206.82 69.71L207.01 67.42L207.2 65.17L207.4 62.97L207.59 60.81L207.78 58.71L207.98 56.66L208.17 54.67L208.36 52.73L208.56 50.85L208.75 49.03L208.94 47.28L209.14 45.59L209.33 43.97L209.53 42.41L209.72 40.92L209.91 39.51L210.11 38.17L210.3 36.9L210.49 35.71L210.69 34.59L210.88 33.55L211.07 32.59L211.27 31.71L211.46 30.91L211.65 30.2L211.85 29.56L212.04 29.01L212.23 28.54L212.43 28.16L212.62 27.86L212.82 27.65L213.01 27.52L213.2 27.48L213.4 27.52L213.59 27.65L213.78 27.86L213.98 28.16L214.17 28.54L214.36 29.01L214.56 29.56L214.75 30.2L214.94 30.91L215.14 31.71L215.33 32.59L215.52 33.55L215.72 34.59L215.91 35.71L216.11 36.9L216.3 38.17L216.49 39.51L216.69 40.92L216.88 42.41L217.07 43.97L217.27 45.59L217.46 47.28L217.65 49.03L217.85 50.85L218.04 52.73L218.23 54.67L218.43 56.66L218.62 58.71L218.81 60.81L219.01 62.97L219.2 65.17L219.4 67.42L219.59 69.71L219.78 72.05L219.98 74.42L220.17 76.83L220.36 79.28L220.56 81.76L220.75 84.27L220.94 86.81L221.14 89.38L221.33 91.97L221.52 94.58L221.72 97.21L221.91 99.85L222.1 102.51L222.3 105.18L222.49 107.86L222.69 110.55L222.88 113.24L223.07 115.94L223.27 118.63L223.46 121.32L223.65 124.01L223.85 126.7L224.04 129.37L224.23 132.03L224.43 134.68L224.62 137.32L224.81 139.94L225.01 142.54L225.2 145.12L225.4 147.67L225.59 150.2L225.78 152.71L225.98 155.19L226.17 157.63L226.36 160.05L226.56 162.43L226.75 164.78L226.94 167.09L227.14 169.36L227.33 171.59L227.52 173.79L227.72 175.94L227.91 178.04L228.1 180.1L228.3 182.12L228.49 184.09L228.69 186.01L228.88 187.88L229.07 189.7L229.27 191.46L229.46 193.18L229.65 194.84L229.85 196.45L230.04 198L230.23 199.49L230.43 200.93L230.62 202.31L230.81 203.64L231.01 204.9L231.2 206.11L231.39 207.25L231.59 208.33L231.78 209.36L231.98 210.32L232.17 211.22L232.36 212.05L232.56 212.82L232.75 213.53L232.94 214.18L233.14 214.76L233.33 215.28L233.52 215.74L233.72 216.12L233.91 216.45L234.1 216.71L234.3 216.91L234.49 217.04L234.68 217.1L234.88 217.1L235.07 217.04L235.27 216.91L235.46 216.71L235.65 216.45L235.85 216.12L236.04 215.74L236.23 215.28L236.43 214.76L236.62 214.18L236.81 213.53L237.01 212.82L237.2 212.05L237.39 211.22L237.59 210.32L237.78 209.36L237.97 208.33L238.17 207.25L238.36 206.11L238.56 204.9L238.75 203.64L238.94 202.31L239.14 200.93L239.33 199.49L239.52 198L239.72 196.45L239.91 194.84L240.1 193.18L240.3 191.46L240.49 189.7L240.68 187.88L240.88 186.01L241.07 184.09L241.26 182.12L241.46 180.1L241.65 178.04L241.85 175.94L242.04 173.79L242.23 171.59L242.43 169.36L242.62 167.09L242.81 164.78L243.01 162.43L243.2 160.05L243.39 157.63L243.59 155.19L243.78 152.71L243.97 150.2L244.17 147.67L244.36 145.12L244.55 142.54L244.75 139.94L244.94 137.32L245.14 134.68L245.33 132.03L245.52 129.37L245.72 126.7L245.91 124.01L246.1 121.32L246.3 118.63L246.49 115.94L246.68 113.24L246.88 110.55L247.07 107.86L247.26 105.18L247.46 102.51L247.65 99.85L247.84 97.21L248.04 94.58L248.23 91.97L248.43 89.38L248.62 86.81L248.81 84.27L249.01 81.76L249.2 79.28L249.39 76.83L249.59 74.42L249.78 72.05L249.97 69.71L250.17 67.42L250.36 65.17L250.55 62.97L250.75 60.81L250.94 58.71L251.13 56.66L251.33 54.67L251.52 52.73L251.72 50.85L251.91 49.03L252.1 47.28L252.3 45.59L252.49 43.97L252.68 42.41L252.88 40.92L253.07 39.51L253.26 38.17L253.46 36.9L253.65 35.71L253.84 34.59L254.04 33.55L254.23 32.59L254.43 31.71L254.62 30.91L254.81 30.2L255.01 29.56L255.2 29.01L255.39 28.54L255.59 28.16L255.78 27.86L255.97 27.65L256.17 27.52L256.36 27.48L256.55 27.52L256.75 27.65L256.94 27.86L257.13 28.16L257.33 28.54L257.52 29.01L257.72 29.56L257.91 30.2L258.1 30.91L258.3 31.71L258.49 32.59L258.68 33.55L258.88 34.59L259.07 35.71L259.26 36.9L259.46 38.17L259.65 39.51L259.84 40.92L260.04 42.41L260.23 43.97L260.42 45.59L260.62 47.28L260.81 49.03L261.01 50.85L261.2 52.73L261.39 54.67L261.59 56.66L261.78 58.71L261.97 60.81L262.17 62.97L262.36 65.17L262.55 67.42L262.75 69.71L262.94 72.05L263.13 74.42L263.33 76.83L263.52 79.28L263.71 81.76L263.91 84.27L264.1 86.81L264.3 89.38L264.49 91.97L264.68 94.58L264.88 97.21L265.07 99.85L265.26 102.51L265.46 105.18L265.65 107.86L265.84 110.55L266.04 113.24L266.23 115.94L266.42 118.63L266.62 121.32L266.81 124.01L267 126.7L267.2 129.37L267.39 132.03L267.59 134.68L267.78 137.32L267.97 139.94L268.17 142.54L268.36 145.12L268.55 147.67L268.75 150.2L268.94 152.71L269.13 155.19L269.33 157.63L269.52 160.05L269.71 162.43L269.91 164.78L270.1 167.09L270.29 169.36L270.49 171.59L270.68 173.79L270.88 175.94L271.07 178.04L271.26 180.1L271.46 182.12L271.65 184.09L271.84 186.01L272.04 187.88L272.23 189.7L272.42 191.46L272.62 193.18L272.81 194.84L273 196.45L273.2 198L273.39 199.49L273.58 200.93L273.78 202.31L273.97 203.64L274.17 204.9L274.36 206.11L274.55 207.25L274.75 208.33L274.94 209.36L275.13 210.32L275.33 211.22L275.52 212.05L275.71 212.82L275.91 213.53L276.1 214.18L276.29 214.76L276.49 215.28L276.68 215.74L276.87 216.12L277.07 216.45L277.26 216.71L277.46 216.91L277.65 217.04L277.84 217.1L278.04 217.1L278.23 217.04L278.42 216.91L278.62 216.71L278.81 216.45L279 216.12L279.2 215.74L279.39 215.28L279.58 214.76L279.78 214.18L279.97 213.53L280.16 212.82L280.36 212.05L280.55 211.22L280.75 210.32L280.94 209.36L281.13 208.33L281.33 207.25L281.52 206.11L281.71 204.9L281.91 203.64L282.1 202.31L282.29 200.93L282.49 199.49L282.68 198L282.87 196.45L283.07 194.84L283.26 193.18L283.46 191.46L283.65 189.7L283.84 187.88L284.04 186.01L284.23 184.09L284.42 182.12L284.62 180.1L284.81 178.04L285 175.94L285.2 173.79L285.39 171.59L285.58 169.36L285.78 167.09L285.97 164.78L286.16 162.43L286.36 160.05L286.55 157.63L286.75 155.19L286.94 152.71L287.13 150.2L287.33 147.67L287.52 145.12L287.71 142.54L287.91 139.94L288.1 137.32L288.29 134.68L288.49 132.03L288.68 129.37L288.87 126.7L289.07 124.01L289.26 121.32L289.45 118.63L289.65 115.94L289.84 113.24L290.04 110.55L290.23 107.86L290.42 105.18L290.62 102.51L290.81 99.85L291 97.21L291.2 94.58L291.39 91.97L291.58 89.38L291.78 86.81L291.97 84.27L292.16 81.76L292.36 79.28L292.55 76.83L292.74 74.42L292.94 72.05L293.13 69.71L293.33 67.42L293.52 65.17L293.71 62.97L293.91 60.81L294.1 58.71L294.29 56.66L294.49 54.67L294.68 52.73L294.87 50.85L295.07 49.03L295.26 47.28L295.45 45.59L295.65 43.97L295.84 42.41L296.03 40.92L296.23 39.51L296.42 38.17L296.62 36.9L296.81 35.71L297 34.59L297.2 33.55L297.39 32.59L297.58 31.71L297.78 30.91L297.97 30.2L298.16 29.56L298.36 29.01L298.55 28.54L298.74 28.16L298.94 27.86L299.13 27.65L299.32 27.52L299.52 27.48L299.71 27.52L299.91 27.65L300.1 27.86L300.29 28.16L300.49 28.54L300.68 29.01L300.87 29.56L301.07 30.2L301.26 30.91L301.45 31.71L301.65 32.59L301.84 33.55L302.03 34.59L302.23 35.71L302.42 36.9L302.61 38.17L302.81 39.51L303 40.92L303.2 42.41L303.39 43.97L303.58 45.59L303.78 47.28L303.97 49.03L304.16 50.85L304.36 52.73L304.55 54.67L304.74 56.66L304.94 58.71L305.13 60.81L305.32 62.97L305.52 65.17L305.71 67.42L305.9 69.71L306.1 72.05L306.29 74.42L306.49 76.83L306.68 79.28L306.87 81.76L307.07 84.27L307.26 86.81L307.45 89.38L307.65 91.97L307.84 94.58L308.03 97.21L308.23 99.85L308.42 102.51L308.61 105.18L308.81 107.86L309 110.55L309.19 113.24L309.39 115.94L309.58 118.63L309.78 121.32L309.97 124.01L310.16 126.7L310.36 129.37L310.55 132.03L310.74 134.68L310.94 137.32L311.13 139.94L311.32 142.54L311.52 145.12L311.71 147.67L311.9 150.2L312.1 152.71L312.29 155.19L312.49 157.63L312.68 160.05L312.87 162.43L313.07 164.78L313.26 167.09L313.45 169.36L313.65 171.59L313.84 173.79L314.03 175.94L314.23 178.04L314.42 180.1L314.61 182.12L314.81 184.09L315 186.01L315.19 187.88L315.39 189.7L315.58 191.46L315.78 193.18L315.97 194.84L316.16 196.45L316.36 198L316.55 199.49L316.74 200.93L316.94 202.31L317.13 203.64L317.32 204.9L317.52 206.11L317.71 207.25L317.9 208.33L318.1 209.36L318.29 210.32L318.48 211.22L318.68 212.05L318.87 212.82L319.07 213.53L319.26 214.18L319.45 214.76L319.65 215.28L319.84 215.74L320.03 216.12L320.23 216.45L320.42 216.71L320.61 216.91L320.81 217.04L321 217.1L321.19 217.1L321.39 217.04L321.58 216.91L321.77 216.71L321.97 216.45L322.16 216.12L322.36 215.74L322.55 215.28L322.74 214.76L322.94 214.18L323.13 213.53L323.32 212.82L323.52 212.05L323.71 211.22L323.9 210.32L324.1 209.36L324.29 208.33L324.48 207.25L324.68 206.11L324.87 204.9L325.06 203.64L325.26 202.31L325.45 200.93L325.65 199.49L325.84 198L326.03 196.45L326.23 194.84L326.42 193.18L326.61 191.46L326.81 189.7L327 187.88" stroke="#ff0000" stroke-width="1.55" fill="none" stroke-dasharray="6 4.6" clip-path="url(#clipa)"/>
<path d="M36.7 156.58L36.89 157.33L37.09 158.05L37.28 158.74L37.47 159.4L37.67 160.02L37.86 160.62L38.05 161.19L38.25 161.72L38.44 162.22L38.64 162.69L38.83 163.12L39.02 163.52L39.22 163.89L39.41 164.22L39.6 164.52L39.8 164.78L39.99 165.01L40.18 165.21L40.38 165.37L40.57 165.49L40.76 165.58L40.96 165.63L41.15 165.65L41.34 165.63L41.54 165.58L41.73 165.49L41.93 165.37L42.12 165.21L42.31 165.01L42.51 164.78L42.7 164.52L42.89 164.22L43.09 163.89L43.28 163.52L43.47 163.12L43.67 162.69L43.86 162.22L44.05 161.72L44.25 161.19L44.44 160.62L44.63 160.02L44.83 159.4L45.02 158.74L45.22 158.05L45.41 157.33L45.6 156.58L45.8 155.8L45.99 154.99L46.18 154.16L46.38 153.3L46.57 152.41L46.76 151.5L46.96 150.56L47.15 149.6L47.34 148.61L47.54 147.6L47.73 146.57L47.92 145.52L48.12 144.45L48.31 143.35L48.51 142.24L48.7 141.11L48.89 139.96L49.09 138.8L49.28 137.62L49.47 136.43L49.67 135.22L49.86 134L50.05 132.77L50.25 131.52L50.44 130.27L50.63 129.01L50.83 127.74L51.02 126.46L51.22 125.18L51.41 123.89L51.6 122.59L51.8 121.3L51.99 120L52.18 118.7L52.38 117.41L52.57 116.11L52.76 114.82L52.96 113.52L53.15 112.24L53.34 110.96L53.54 109.68L53.73 108.41L53.92 107.15L54.12 105.91L54.31 104.67L54.51 103.44L54.7 102.22L54.89 101.02L55.09 99.83L55.28 98.66L55.47 97.51L55.67 96.37L55.86 95.25L56.05 94.15L56.25 93.07L56.44 92.01L56.63 90.98L56.83 89.96L57.02 88.98L57.21 88.01L57.41 87.07L57.6 86.16L57.8 85.27L57.99 84.41L58.18 83.58L58.38 82.78L58.57 82.01L58.76 81.27L58.96 80.56L59.15 79.89L59.34 79.24L59.54 78.63L59.73 78.05L59.92 77.51L60.12 77L60.31 76.52L60.5 76.08L60.7 75.68L60.89 75.31L61.09 74.98L61.28 74.68L61.47 74.43L61.67 74.2L61.86 74.02L62.05 73.88L62.25 73.77L62.44 73.7L62.63 73.66L62.83 73.67L63.02 73.71L63.21 73.79L63.41 73.91L63.6 74.06L63.79 74.26L63.99 74.49L64.18 74.75L64.38 75.06L64.57 75.4L64.76 75.78L64.96 76.19L65.15 76.64L65.34 77.12L65.54 77.64L65.73 78.19L65.92 78.78L66.12 79.4L66.31 80.05L66.5 80.74L66.7 81.45L66.89 82.2L67.08 82.98L67.28 83.79L67.47 84.63L67.67 85.49L67.86 86.38L68.05 87.3L68.25 88.25L68.44 89.22L68.63 90.22L68.83 91.24L69.02 92.28L69.21 93.34L69.41 94.43L69.6 95.53L69.79 96.65L69.99 97.8L70.18 98.95L70.37 100.13L70.57 101.32L70.76 102.53L70.96 103.74L71.15 104.97L71.34 106.22L71.54 107.47L71.73 108.73L71.92 110L72.12 111.28L72.31 112.56L72.5 113.85L72.7 115.14L72.89 116.43L73.08 117.73L73.28 119.03L73.47 120.33L73.66 121.62L73.86 122.92L74.05 124.21L74.25 125.5L74.44 126.78L74.63 128.05L74.83 129.32L75.02 130.58L75.21 131.83L75.41 133.07L75.6 134.3L75.79 135.52L75.99 136.73L76.18 137.92L76.37 139.09L76.57 140.25L76.76 141.4L76.95 142.52L77.15 143.63L77.34 144.72L77.54 145.79L77.73 146.83L77.92 147.86L78.12 148.86L78.31 149.84L78.5 150.8L78.7 151.73L78.89 152.64L79.08 153.52L79.28 154.37L79.47 155.2L79.66 156L79.86 156.77L80.05 157.51L80.25 158.22L80.44 158.9L80.63 159.56L80.83 160.18L81.02 160.77L81.21 161.32L81.41 161.85L81.6 162.34L81.79 162.8L81.99 163.22L82.18 163.62L82.37 163.98L82.57 164.3L82.76 164.59L82.95 164.84L83.15 165.06L83.34 165.25L83.54 165.4L83.73 165.51L83.92 165.59L84.12 165.64L84.31 165.65L84.5 165.62L84.7 165.56L84.89 165.46L85.08 165.33L85.28 165.16L85.47 164.96L85.66 164.72L85.86 164.45L86.05 164.14L86.24 163.8L86.44 163.42L86.63 163.02L86.83 162.57L87.02 162.1L87.21 161.59L87.41 161.05L87.6 160.47L87.79 159.87L87.99 159.23L88.18 158.57L88.37 157.87L88.57 157.14L88.76 156.39L88.95 155.6L89.15 154.79L89.34 153.95L89.53 153.08L89.73 152.19L89.92 151.27L90.12 150.32L90.31 149.36L90.5 148.36L90.7 147.35L90.89 146.31L91.08 145.25L91.28 144.18L91.47 143.08L91.66 141.96L91.86 140.83L92.05 139.67L92.24 138.51L92.44 137.32L92.63 136.13L92.82 134.91L93.02 133.69L93.21 132.46L93.41 131.21L93.6 129.95L93.79 128.69L93.99 127.42L94.18 126.14L94.37 124.85L94.57 123.56L94.76 122.27L94.95 120.98L95.15 119.68L95.34 118.38L95.53 117.08L95.73 115.79L95.92 114.49L96.11 113.2L96.31 111.92L96.5 110.64L96.7 109.36L96.89 108.1L97.08 106.84L97.28 105.59L97.47 104.36L97.66 103.13L97.86 101.92L98.05 100.72L98.24 99.54L98.44 98.37L98.63 97.22L98.82 96.09L99.02 94.98L99.21 93.88L99.4 92.81L99.6 91.75L99.79 90.72L99.99 89.72L100.18 88.73L100.37 87.77L100.57 86.84L100.76 85.93L100.95 85.05L101.15 84.2L101.34 83.38L101.53 82.59L101.73 81.82L101.92 81.09L102.11 80.39L102.31 79.72L102.5 79.09L102.69 78.48L102.89 77.91L103.08 77.38L103.28 76.87L103.47 76.41L103.66 75.98L103.86 75.58L104.05 75.22L104.24 74.9L104.44 74.62L104.63 74.37L104.82 74.16L105.02 73.98L105.21 73.84L105.4 73.75L105.6 73.68L105.79 73.66L105.98 73.67L106.18 73.73L106.37 73.82L106.57 73.94L106.76 74.11L106.95 74.31L107.15 74.55L107.34 74.83L107.53 75.14L107.73 75.49L107.92 75.88L108.11 76.3L108.31 76.76L108.5 77.25L108.69 77.77L108.89 78.34L109.08 78.93L109.28 79.56L109.47 80.22L109.66 80.91L109.86 81.64L110.05 82.39L110.24 83.18L110.44 83.99L110.63 84.84L110.82 85.71L111.02 86.61L111.21 87.54L111.4 88.49L111.6 89.47L111.79 90.47L111.98 91.49L112.18 92.54L112.37 93.61L112.57 94.7L112.76 95.81L112.95 96.94L113.15 98.08L113.34 99.25L113.53 100.43L113.73 101.62L113.92 102.83L114.11 104.05L114.31 105.28L114.5 106.53L114.69 107.78L114.89 109.05L115.08 110.32L115.27 111.6L115.47 112.88L115.66 114.17L115.86 115.46L116.05 116.76L116.24 118.06L116.44 119.35L116.63 120.65L116.82 121.95L117.02 123.24L117.21 124.53L117.4 125.82L117.6 127.1L117.79 128.37L117.98 129.64L118.18 130.9L118.37 132.15L118.56 133.38L118.76 134.61L118.95 135.82L119.15 137.03L119.34 138.21L119.53 139.38L119.73 140.54L119.92 141.68L120.11 142.8L120.31 143.9L120.5 144.99L120.69 146.05L120.89 147.09L121.08 148.11L121.27 149.11L121.47 150.08L121.66 151.03L121.85 151.96L122.05 152.86L122.24 153.73L122.44 154.58L122.63 155.4L122.82 156.19L123.02 156.96L123.21 157.69L123.4 158.4L123.6 159.07L123.79 159.71L123.98 160.33L124.18 160.91L124.37 161.46L124.56 161.97L124.76 162.46L124.95 162.91L125.14 163.33L125.34 163.71L125.53 164.06L125.73 164.37L125.92 164.66L126.11 164.9L126.31 165.11L126.5 165.29L126.69 165.43L126.89 165.54L127.08 165.61L127.27 165.64L127.47 165.64L127.66 165.61L127.85 165.54L128.05 165.43L128.24 165.29L128.43 165.11L128.63 164.9L128.82 164.66L129.02 164.37L129.21 164.06L129.4 163.71L129.6 163.33L129.79 162.91L129.98 162.46L130.18 161.97L130.37 161.46L130.56 160.91L130.76 160.33L130.95 159.71L131.14 159.07L131.34 158.4L131.53 157.69L131.72 156.96L131.92 156.19L132.11 155.4L132.31 154.58L132.5 153.73L132.69 152.86L132.89 151.96L133.08 151.03L133.27 150.08L133.47 149.11L133.66 148.11L133.85 147.09L134.05 146.05L134.24 144.99L134.43 143.9L134.63 142.8L134.82 141.68L135.01 140.54L135.21 139.38L135.4 138.21L135.6 137.03L135.79 135.82L135.98 134.61L136.18 133.38L136.37 132.15L136.56 130.9L136.76 129.64L136.95 128.37L137.14 127.1L137.34 125.82L137.53 124.53L137.72 123.24L137.92 121.95L138.11 120.65L138.31 119.35L138.5 118.06L138.69 116.76L138.89 115.46L139.08 114.17L139.27 112.88L139.47 111.6L139.66 110.32L139.85 109.05L140.05 107.78L140.24 106.53L140.43 105.28L140.63 104.05L140.82 102.83L141.01 101.62L141.21 100.43L141.4 99.25L141.6 98.08L141.79 96.94L141.98 95.81L142.18 94.7L142.37 93.61L142.56 92.54L142.76 91.49L142.95 90.47L143.14 89.47L143.34 88.49L143.53 87.54L143.72 86.61L143.92 85.71L144.11 84.84L144.3 83.99L144.5 83.18L144.69 82.39L144.89 81.64L145.08 80.91L145.27 80.22L145.47 79.56L145.66 78.93L145.85 78.34L146.05 77.77L146.24 77.25L146.43 76.76L146.63 76.3L146.82 75.88L147.01 75.49L147.21 75.14L147.4 74.83L147.59 74.55L147.79 74.31L147.98 74.11L148.18 73.94L148.37 73.82L148.56 73.73L148.76 73.67L148.95 73.66L149.14 73.68L149.34 73.75L149.53 73.84L149.72 73.98L149.92 74.16L150.11 74.37L150.3 74.62L150.5 74.9L150.69 75.22L150.88 75.58L151.08 75.98L151.27 76.41L151.47 76.87L151.66 77.38L151.85 77.91L152.05 78.48L152.24 79.09L152.43 79.72L152.63 80.39L152.82 81.09L153.01 81.82L153.21 82.59L153.4 83.38L153.59 84.2L153.79 85.05L153.98 85.93L154.17 86.84L154.37 87.77L154.56 88.73L154.76 89.72L154.95 90.72L155.14 91.75L155.34 92.81L155.53 93.88L155.72 94.98L155.92 96.09L156.11 97.22L156.3 98.37L156.5 99.54L156.69 100.72L156.88 101.92L157.08 103.13L157.27 104.36L157.46 105.59L157.66 106.84L157.85 108.1L158.05 109.36L158.24 110.64L158.43 111.92L158.63 113.2L158.82 114.49L159.01 115.79L159.21 117.08L159.4 118.38L159.59 119.68L159.79 120.98L159.98 122.27L160.17 123.56L160.37 124.85L160.56 126.14L160.75 127.42L160.95 128.69L161.14 129.95L161.34 131.21L161.53 132.46L161.72 133.69L161.92 134.91L162.11 136.13L162.3 137.32L162.5 138.51L162.69 139.67L162.88 140.83L163.08 141.96L163.27 143.08L163.46 144.18L163.66 145.25L163.85 146.31L164.04 147.35L164.24 148.36L164.43 149.36L164.63 150.32L164.82 151.27L165.01 152.19L165.21 153.08L165.4 153.95L165.59 154.79L165.79 155.6L165.98 156.39L166.17 157.14L166.37 157.87L166.56 158.57L166.75 159.23L166.95 159.87L167.14 160.47L167.34 161.05L167.53 161.59L167.72 162.1L167.92 162.57L168.11 163.02L168.3 163.42L168.5 163.8L168.69 164.14L168.88 164.45L169.08 164.72L169.27 164.96L169.46 165.16L169.66 165.33L169.85 165.46L170.04 165.56L170.24 165.62L170.43 165.65L170.63 165.64L170.82 165.59L171.01 165.51L171.21 165.4L171.4 165.25L171.59 165.06L171.79 164.84L171.98 164.59L172.17 164.3L172.37 163.98L172.56 163.62L172.75 163.22L172.95 162.8L173.14 162.34L173.33 161.85L173.53 161.32L173.72 160.77L173.92 160.18L174.11 159.56L174.3 158.9L174.5 158.22L174.69 157.51L174.88 156.77L175.08 156L175.27 155.2L175.46 154.37L175.66 153.52L175.85 152.64L176.04 151.73L176.24 150.8L176.43 149.84L176.62 148.86L176.82 147.86L177.01 146.83L177.21 145.79L177.4 144.72L177.59 143.63L177.79 142.52L177.98 141.4L178.17 140.25L178.37 139.09L178.56 137.92L178.75 136.73L178.95 135.52L179.14 134.3L179.33 133.07L179.53 131.83L179.72 130.58L179.91 129.32L180.11 128.05L180.3 126.78L180.5 125.5L180.69 124.21L180.88 122.92L181.08 121.62L181.27 120.33L181.46 119.03L181.66 117.73L181.85 116.43L182.04 115.14L182.24 113.85L182.43 112.56L182.62 111.28L182.82 110L183.01 108.73L183.2 107.47L183.4 106.22L183.59 104.97L183.79 103.74L183.98 102.53L184.17 101.32L184.37 100.13L184.56 98.95L184.75 97.8L184.95 96.65L185.14 95.53L185.33 94.43L185.53 93.34L185.72 92.28L185.91 91.24L186.11 90.22L186.3 89.22L186.49 88.25L186.69 87.3L186.88 86.38L187.08 85.49L187.27 84.63L187.46 83.79L187.66 82.98L187.85 82.2L188.04 81.45L188.24 80.74L188.43 80.05L188.62 79.4L188.82 78.78L189.01 78.19L189.2 77.64L189.4 77.12L189.59 76.64L189.78 76.19L189.98 75.78L190.17 75.4L190.37 75.06L190.56 74.75L190.75 74.49L190.95 74.26L191.14 74.06L191.33 73.91L191.53 73.79L191.72 73.71L191.91 73.67L192.11 73.66L192.3 73.7L192.49 73.77L192.69 73.88L192.88 74.02L193.07 74.2L193.27 74.43L193.46 74.68L193.66 74.98L193.85 75.31L194.04 75.68L194.24 76.08L194.43 76.52L194.62 77L194.82 77.51L195.01 78.05L195.2 78.63L195.4 79.24L195.59 79.89L195.78 80.56L195.98 81.27L196.17 82.01L196.37 82.78L196.56 83.58L196.75 84.41L196.95 85.27L197.14 86.16L197.33 87.07L197.53 88.01L197.72 88.98L197.91 89.96L198.11 90.98L198.3 92.01L198.49 93.07L198.69 94.15L198.88 95.25L199.07 96.37L199.27 97.51L199.46 98.66L199.66 99.83L199.85 101.02L200.04 102.22L200.24 103.44L200.43 104.67L200.62 105.91L200.82 107.15L201.01 108.41L201.2 109.68L201.4 110.96L201.59 112.24L201.78 113.52L201.98 114.82L202.17 116.11L202.36 117.41L202.56 118.7L202.75 120L202.95 121.3L203.14 122.59L203.33 123.89L203.53 125.18L203.72 126.46L203.91 127.74L204.11 129.01L204.3 130.27L204.49 131.52L204.69 132.77L204.88 134L205.07 135.22L205.27 136.43L205.46 137.62L205.65 138.8L205.85 139.96L206.04 141.11L206.24 142.24L206.43 143.35L206.62 144.45L206.82 145.52L207.01 146.57L207.2 147.6L207.4 148.61L207.59 149.6L207.78 150.56L207.98 151.5L208.17 152.41L208.36 153.3L208.56 154.16L208.75 154.99L208.94 155.8L209.14 156.58L209.33 157.33L209.53 158.05L209.72 158.74L209.91 159.4L210.11 160.02L210.3 160.62L210.49 161.19L210.69 161.72L210.88 162.22L211.07 162.69L211.27 163.12L211.46 163.52L211.65 163.89L211.85 164.22L212.04 164.52L212.23 164.78L212.43 165.01L212.62 165.21L212.82 165.37L213.01 165.49L213.2 165.58L213.4 165.63L213.59 165.65L213.78 165.63L213.98 165.58L214.17 165.49L214.36 165.37L214.56 165.21L214.75 165.01L214.94 164.78L215.14 164.52L215.33 164.22L215.52 163.89L215.72 163.52L215.91 163.12L216.11 162.69L216.3 162.22L216.49 161.72L216.69 161.19L216.88 160.62L217.07 160.02L217.27 159.4L217.46 158.74L217.65 158.05L217.85 157.33L218.04 156.58L218.23 155.8L218.43 154.99L218.62 154.16L218.81 153.3L219.01 152.41L219.2 151.5L219.4 150.56L219.59 149.6L219.78 148.61L219.98 147.6L220.17 146.57L220.36 145.52L220.56 144.45L220.75 143.35L220.94 142.24L221.14 141.11L221.33 139.96L221.52 138.8L221.72 137.62L221.91 136.43L222.1 135.22L222.3 134L222.49 132.77L222.69 131.52L222.88 130.27L223.07 129.01L223.27 127.74L223.46 126.46L223.65 125.18L223.85 123.89L224.04 122.59L224.23 121.3L224.43 120L224.62 118.7L224.81 117.41L225.01 116.11L225.2 114.82L225.4 113.52L225.59 112.24L225.78 110.96L225.98 109.68L226.17 108.41L226.36 107.15L226.56 105.91L226.75 104.67L226.94 103.44L227.14 102.22L227.33 101.02L227.52 99.83L227.72 98.66L227.91 97.51L228.1 96.37L228.3 95.25L228.49 94.15L228.69 93.07L228.88 92.01L229.07 90.98L229.27 89.96L229.46 88.98L229.65 88.01L229.85 87.07L230.04 86.16L230.23 85.27L230.43 84.41L230.62 83.58L230.81 82.78L231.01 82.01L231.2 81.27L231.39 80.56L231.59 79.89L231.78 79.24L231.98 78.63L232.17 78.05L232.36 77.51L232.56 77L232.75 76.52L232.94 76.08L233.14 75.68L233.33 75.31L233.52 74.98L233.72 74.68L233.91 74.43L234.1 74.2L234.3 74.02L234.49 73.88L234.68 73.77L234.88 73.7L235.07 73.66L235.27 73.67L235.46 73.71L235.65 73.79L235.85 73.91L236.04 74.06L236.23 74.26L236.43 74.49L236.62 74.75L236.81 75.06L237.01 75.4L237.2 75.78L237.39 76.19L237.59 76.64L237.78 77.12L237.97 77.64L238.17 78.19L238.36 78.78L238.56 79.4L238.75 80.05L238.94 80.74L239.14 81.45L239.33 82.2L239.52 82.98L239.72 83.79L239.91 84.63L240.1 85.49L240.3 86.38L240.49 87.3L240.68 88.25L240.88 89.22L241.07 90.22L241.26 91.24L241.46 92.28L241.65 93.34L241.85 94.43L242.04 95.53L242.23 96.65L242.43 97.8L242.62 98.95L242.81 100.13L243.01 101.32L243.2 102.53L243.39 103.74L243.59 104.97L243.78 106.22L243.97 107.47L244.17 108.73L244.36 110L244.55 111.28L244.75 112.56L244.94 113.85L245.14 115.14L245.33 116.43L245.52 117.73L245.72 119.03L245.91 120.33L246.1 121.62L246.3 122.92L246.49 124.21L246.68 125.5L246.88 126.78L247.07 128.05L247.26 129.32L247.46 130.58L247.65 131.83L247.84 133.07L248.04 134.3L248.23 135.52L248.43 136.73L248.62 137.92L248.81 139.09L249.01 140.25L249.2 141.4L249.39 142.52L249.59 143.63L249.78 144.72L249.97 145.79L250.17 146.83L250.36 147.86L250.55 148.86L250.75 149.84L250.94 150.8L251.13 151.73L251.33 152.64L251.52 153.52L251.72 154.37L251.91 155.2L252.1 156L252.3 156.77L252.49 157.51L252.68 158.22L252.88 158.9L253.07 159.56L253.26 160.18L253.46 160.77L253.65 161.32L253.84 161.85L254.04 162.34L254.23 162.8L254.43 163.22L254.62 163.62L254.81 163.98L255.01 164.3L255.2 164.59L255.39 164.84L255.59 165.06L255.78 165.25L255.97 165.4L256.17 165.51L256.36 165.59L256.55 165.64L256.75 165.65L256.94 165.62L257.13 165.56L257.33 165.46L257.52 165.33L257.72 165.16L257.91 164.96L258.1 164.72L258.3 164.45L258.49 164.14L258.68 163.8L258.88 163.42L259.07 163.02L259.26 162.57L259.46 162.1L259.65 161.59L259.84 161.05L260.04 160.47L260.23 159.87L260.42 159.23L260.62 158.57L260.81 157.87L261.01 157.14L261.2 156.39L261.39 155.6L261.59 154.79L261.78 153.95L261.97 153.08L262.17 152.19L262.36 151.27L262.55 150.32L262.75 149.36L262.94 148.36L263.13 147.35L263.33 146.31L263.52 145.25L263.71 144.18L263.91 143.08L264.1 141.96L264.3 140.83L264.49 139.67L264.68 138.51L264.88 137.32L265.07 136.13L265.26 134.91L265.46 133.69L265.65 132.46L265.84 131.21L266.04 129.95L266.23 128.69L266.42 127.42L266.62 126.14L266.81 124.85L267 123.56L267.2 122.27L267.39 120.98L267.59 119.68L267.78 118.38L267.97 117.08L268.17 115.79L268.36 114.49L268.55 113.2L268.75 111.92L268.94 110.64L269.13 109.36L269.33 108.1L269.52 106.84L269.71 105.59L269.91 104.36L270.1 103.13L270.29 101.92L270.49 100.72L270.68 99.54L270.88 98.37L271.07 97.22L271.26 96.09L271.46 94.98L271.65 93.88L271.84 92.81L272.04 91.75L272.23 90.72L272.42 89.72L272.62 88.73L272.81 87.77L273 86.84L273.2 85.93L273.39 85.05L273.58 84.2L273.78 83.38L273.97 82.59L274.17 81.82L274.36 81.09L274.55 80.39L274.75 79.72L274.94 79.09L275.13 78.48L275.33 77.91L275.52 77.38L275.71 76.87L275.91 76.41L276.1 75.98L276.29 75.58L276.49 75.22L276.68 74.9L276.87 74.62L277.07 74.37L277.26 74.16L277.46 73.98L277.65 73.84L277.84 73.75L278.04 73.68L278.23 73.66L278.42 73.67L278.62 73.73L278.81 73.82L279 73.94L279.2 74.11L279.39 74.31L279.58 74.55L279.78 74.83L279.97 75.14L280.16 75.49L280.36 75.88L280.55 76.3L280.75 76.76L280.94 77.25L281.13 77.77L281.33 78.34L281.52 78.93L281.71 79.56L281.91 80.22L282.1 80.91L282.29 81.64L282.49 82.39L282.68 83.18L282.87 83.99L283.07 84.84L283.26 85.71L283.46 86.61L283.65 87.54L283.84 88.49L284.04 89.47L284.23 90.47L284.42 91.49L284.62 92.54L284.81 93.61L285 94.7L285.2 95.81L285.39 96.94L285.58 98.08L285.78 99.25L285.97 100.43L286.16 101.62L286.36 102.83L286.55 104.05L286.75 105.28L286.94 106.53L287.13 107.78L287.33 109.05L287.52 110.32L287.71 111.6L287.91 112.88L288.1 114.17L288.29 115.46L288.49 116.76L288.68 118.06L288.87 119.35L289.07 120.65L289.26 121.95L289.45 123.24L289.65 124.53L289.84 125.82L290.04 127.1L290.23 128.37L290.42 129.64L290.62 130.9L290.81 132.15L291 133.38L291.2 134.61L291.39 135.82L291.58 137.03L291.78 138.21L291.97 139.38L292.16 140.54L292.36 141.68L292.55 142.8L292.74 143.9L292.94 144.99L293.13 146.05L293.33 147.09L293.52 148.11L293.71 149.11L293.91 150.08L294.1 151.03L294.29 151.96L294.49 152.86L294.68 153.73L294.87 154.58L295.07 155.4L295.26 156.19L295.45 156.96L295.65 157.69L295.84 158.4L296.03 159.07L296.23 159.71L296.42 160.33L296.62 160.91L296.81 161.46L297 161.97L297.2 162.46L297.39 162.91L297.58 163.33L297.78 163.71L297.97 164.06L298.16 164.37L298.36 164.66L298.55 164.9L298.74 165.11L298.94 165.29L299.13 165.43L299.32 165.54L299.52 165.61L299.71 165.64L299.91 165.64L300.1 165.61L300.29 165.54L300.49 165.43L300.68 165.29L300.87 165.11L301.07 164.9L301.26 164.66L301.45 164.37L301.65 164.06L301.84 163.71L302.03 163.33L302.23 162.91L302.42 162.46L302.61 161.97L302.81 161.46L303 160.91L303.2 160.33L303.39 159.71L303.58 159.07L303.78 158.4L303.97 157.69L304.16 156.96L304.36 156.19L304.55 155.4L304.74 154.58L304.94 153.73L305.13 152.86L305.32 151.96L305.52 151.03L305.71 150.08L305.9 149.11L306.1 148.11L306.29 147.09L306.49 146.05L306.68 144.99L306.87 143.9L307.07 142.8L307.26 141.68L307.45 140.54L307.65 139.38L307.84 138.21L308.03 137.03L308.23 135.82L308.42 134.61L308.61 133.38L308.81 132.15L309 130.9L309.19 129.64L309.39 128.37L309.58 127.1L309.78 125.82L309.97 124.53L310.16 123.24L310.36 121.95L310.55 120.65L310.74 119.35L310.94 118.06L311.13 116.76L311.32 115.46L311.52 114.17L311.71 112.88L311.9 111.6L312.1 110.32L312.29 109.05L312.49 107.78L312.68 106.53L312.87 105.28L313.07 104.05L313.26 102.83L313.45 101.62L313.65 100.43L313.84 99.25L314.03 98.08L314.23 96.94L314.42 95.81L314.61 94.7L314.81 93.61L315 92.54L315.19 91.49L315.39 90.47L315.58 89.47L315.78 88.49L315.97 87.54L316.16 86.61L316.36 85.71L316.55 84.84L316.74 83.99L316.94 83.18L317.13 82.39L317.32 81.64L317.52 80.91L317.71 80.22L317.9 79.56L318.1 78.93L318.29 78.34L318.48 77.77L318.68 77.25L318.87 76.76L319.07 76.3L319.26 75.88L319.45 75.49L319.65 75.14L319.84 74.83L320.03 74.55L320.23 74.31L320.42 74.11L320.61 73.94L320.81 73.82L321 73.73L321.19 73.67L321.39 73.66L321.58 73.68L321.77 73.75L321.97 73.84L322.16 73.98L322.36 74.16L322.55 74.37L322.74 74.62L322.94 74.9L323.13 75.22L323.32 75.58L323.52 75.98L323.71 76.41L323.9 76.87L324.1 77.38L324.29 77.91L324.48 78.48L324.68 79.09L324.87 79.72L325.06 80.39L325.26 81.09L325.45 81.82L325.65 82.59L325.84 83.38L326.03 84.2L326.23 85.05L326.42 85.93L326.61 86.84L326.81 87.77L327 88.73" stroke="#00ff00" stroke-width="1.5" fill="none" stroke-dasharray="1.3 1.2" clip-path="url(#clipa)"/>
<path d="M36.7 232v-3.0M36.7 5.8v3.0M85.08 232v-3.0M85.08 5.8v3.0M133.47 232v-3.0M133.47 5.8v3.0M181.85 232v-3.0M181.85 5.8v3.0M230.23 232v-3.0M230.23 5.8v3.0M278.62 232v-3.0M278.62 5.8v3.0M327 232v-3.0M327 5.8v3.0M36.7 232h3.0M327 232h-3.0M36.7 194.3h3.0M327 194.3h-3.0M36.7 156.6h3.0M327 156.6h-3.0M36.7 118.9h3.0M327 118.9h-3.0M36.7 81.2h3.0M327 81.2h-3.0M36.7 43.5h3.0M327 43.5h-3.0M36.7 5.8h3.0M327 5.8h-3.0" stroke="#1c1c1c" stroke-width="1.3" fill="none"/>
<rect x="46.3" y="218.3" width="266.7" height="13.7" fill="#fff" stroke="#1c1c1c" stroke-width="1.3"/>
<path d="M50.9 225.3H79.4" stroke="#0000ff" stroke-width="1.7"/>
<g clip-path="url(#legclip)"><text transform="translate(81.8 228.7) scale(1 1.12)" font-size="7.3" fill="#1c1c1c" stroke="#1c1c1c" stroke-width="0.12">IC 1: [0.01, 0.01]</text></g>
<path d="M139.4 225.3H146.1M151.1 225.3H156.9M161.9 225.3H168.3" stroke="#ff0000" stroke-width="1.55"/>
<g clip-path="url(#legclip)"><text transform="translate(170.8 228.7) scale(1 1.12)" font-size="7.3" fill="#1c1c1c" stroke="#1c1c1c" stroke-width="0.12">IC 2: [0.20, 0.20]</text></g>
<rect x="228.55" y="224.55" width="1.5" height="1.5" fill="#00ff00"/>
<rect x="231.29" y="224.55" width="1.5" height="1.5" fill="#00ff00"/>
<rect x="234.03" y="224.55" width="1.5" height="1.5" fill="#00ff00"/>
<rect x="236.77" y="224.55" width="1.5" height="1.5" fill="#00ff00"/>
<rect x="239.51" y="224.55" width="1.5" height="1.5" fill="#00ff00"/>
<rect x="242.25" y="224.55" width="1.5" height="1.5" fill="#00ff00"/>
<rect x="244.99" y="224.55" width="1.5" height="1.5" fill="#00ff00"/>
<rect x="247.73" y="224.55" width="1.5" height="1.5" fill="#00ff00"/>
<rect x="250.47" y="224.55" width="1.5" height="1.5" fill="#00ff00"/>
<rect x="253.21" y="224.55" width="1.5" height="1.5" fill="#00ff00"/>
<rect x="255.95" y="224.55" width="1.5" height="1.5" fill="#00ff00" opacity="0.35"/>
<g clip-path="url(#legclip)"><text transform="translate(259 228.7) scale(1 1.12)" font-size="7.3" fill="#1c1c1c" stroke="#1c1c1c" stroke-width="0.12">IC 3: [-0.1, -0.1]</text></g>
<rect x="36.7" y="5.8" width="290.3" height="226.2" fill="none" stroke="#1c1c1c" stroke-width="1.6"/>
<text x="32.6" y="236.8" font-size="11.3" text-anchor="end" fill="#1c1c1c" stroke="#1c1c1c" stroke-width="0.12">-0.3</text>
<text x="32.6" y="199.1" font-size="11.3" text-anchor="end" fill="#1c1c1c" stroke="#1c1c1c" stroke-width="0.12">-0.2</text>
<text x="32.6" y="161.4" font-size="11.3" text-anchor="end" fill="#1c1c1c" stroke="#1c1c1c" stroke-width="0.12">-0.1</text>
<text x="32.6" y="123.7" font-size="11.3" text-anchor="end" fill="#1c1c1c" stroke="#1c1c1c" stroke-width="0.12">0</text>
<text x="32.6" y="86" font-size="11.3" text-anchor="end" fill="#1c1c1c" stroke="#1c1c1c" stroke-width="0.12">0.1</text>
<text x="32.6" y="48.3" font-size="11.3" text-anchor="end" fill="#1c1c1c" stroke="#1c1c1c" stroke-width="0.12">0.2</text>
<text x="32.6" y="10.6" font-size="11.3" text-anchor="end" fill="#1c1c1c" stroke="#1c1c1c" stroke-width="0.12">0.3</text>
<text x="36.7" y="248.3" font-size="11.3" text-anchor="middle" fill="#1c1c1c" stroke="#1c1c1c" stroke-width="0.12">0</text>
<text x="85.08" y="248.3" font-size="11.3" text-anchor="middle" fill="#1c1c1c" stroke="#1c1c1c" stroke-width="0.12">5</text>
<text x="133.47" y="248.3" font-size="11.3" text-anchor="middle" fill="#1c1c1c" stroke="#1c1c1c" stroke-width="0.12">10</text>
<text x="181.85" y="248.3" font-size="11.3" text-anchor="middle" fill="#1c1c1c" stroke="#1c1c1c" stroke-width="0.12">15</text>
<text x="230.23" y="248.3" font-size="11.3" text-anchor="middle" fill="#1c1c1c" stroke="#1c1c1c" stroke-width="0.12">20</text>
<text x="278.62" y="248.3" font-size="11.3" text-anchor="middle" fill="#1c1c1c" stroke="#1c1c1c" stroke-width="0.12">25</text>
<text x="327" y="248.3" font-size="11.3" text-anchor="middle" fill="#1c1c1c" stroke="#1c1c1c" stroke-width="0.12">30</text>
<text x="181.65" y="262.9" font-size="11.5" text-anchor="middle" fill="#1c1c1c">Time</text>
<text transform="translate(8.5 118.9) rotate(-90)" font-size="11" font-weight="bold" text-anchor="middle" fill="#1c1c1c">F</text>
<text x="179.2" y="292" font-family="'Liberation Serif', serif" font-weight="bold" font-size="18.6" text-anchor="middle" fill="#000">(a)</text>
<path d="M434 4V233M483 4V233M532 4V233M581 4V233M630 4V233M385 194.83H679M385 156.67H679M385 118.5H679M385 80.33H679M385 42.17H679" stroke="#d2d2d2" stroke-width="1.2" fill="none"/>
<path d="M385 103.06L385.2 102.75L385.39 102.45L385.59 102.17L385.78 101.9L385.98 101.65L386.18 101.41L386.37 101.18L386.57 100.96L386.76 100.76L386.96 100.58L387.16 100.41L387.35 100.25L387.55 100.11L387.74 99.98L387.94 99.86L388.14 99.77L388.33 99.68L388.53 99.61L388.72 99.56L388.92 99.52L389.12 99.5L389.31 99.49L389.51 99.5L389.7 99.52L389.9 99.56L390.1 99.61L390.29 99.68L390.49 99.77L390.68 99.86L390.88 99.98L391.08 100.11L391.27 100.25L391.47 100.41L391.66 100.58L391.86 100.76L392.06 100.96L392.25 101.18L392.45 101.41L392.64 101.65L392.84 101.9L393.04 102.17L393.23 102.45L393.43 102.75L393.62 103.06L393.82 103.37L394.02 103.71L394.21 104.05L394.41 104.4L394.6 104.77L394.8 105.15L395 105.54L395.19 105.93L395.39 106.34L395.58 106.76L395.78 107.19L395.98 107.62L396.17 108.07L396.37 108.52L396.56 108.98L396.76 109.45L396.96 109.93L397.15 110.41L397.35 110.9L397.54 111.4L397.74 111.9L397.94 112.41L398.13 112.92L398.33 113.43L398.52 113.95L398.72 114.48L398.92 115.01L399.11 115.54L399.31 116.07L399.5 116.6L399.7 117.14L399.9 117.67L400.09 118.21L400.29 118.75L400.48 119.29L400.68 119.82L400.88 120.36L401.07 120.89L401.27 121.42L401.46 121.95L401.66 122.48L401.86 123.01L402.05 123.53L402.25 124.04L402.44 124.55L402.64 125.06L402.84 125.56L403.03 126.06L403.23 126.55L403.42 127.03L403.62 127.51L403.82 127.98L404.01 128.44L404.21 128.9L404.4 129.34L404.6 129.78L404.8 130.21L404.99 130.63L405.19 131.04L405.38 131.43L405.58 131.82L405.78 132.2L405.97 132.57L406.17 132.92L406.36 133.27L406.56 133.6L406.76 133.92L406.95 134.23L407.15 134.52L407.34 134.81L407.54 135.08L407.74 135.33L407.93 135.58L408.13 135.81L408.32 136.02L408.52 136.22L408.72 136.41L408.91 136.58L409.11 136.74L409.3 136.88L409.5 137.01L409.7 137.13L409.89 137.23L410.09 137.31L410.28 137.38L410.48 137.44L410.68 137.47L410.87 137.5L411.07 137.51L411.26 137.5L411.46 137.48L411.66 137.44L411.85 137.39L412.05 137.32L412.24 137.24L412.44 137.14L412.64 137.03L412.83 136.9L413.03 136.76L413.22 136.61L413.42 136.44L413.62 136.25L413.81 136.05L414.01 135.84L414.2 135.61L414.4 135.37L414.6 135.12L414.79 134.85L414.99 134.57L415.18 134.27L415.38 133.97L415.58 133.65L415.77 133.32L415.97 132.98L416.16 132.62L416.36 132.26L416.56 131.88L416.75 131.49L416.95 131.1L417.14 130.69L417.34 130.27L417.54 129.84L417.73 129.41L417.93 128.96L418.12 128.51L418.32 128.05L418.52 127.58L418.71 127.11L418.91 126.62L419.1 126.13L419.3 125.64L419.5 125.14L419.69 124.63L419.89 124.12L420.08 123.6L420.28 123.08L420.48 122.56L420.67 122.03L420.87 121.5L421.06 120.97L421.26 120.44L421.46 119.9L421.65 119.37L421.85 118.83L422.04 118.29L422.24 117.75L422.44 117.22L422.63 116.68L422.83 116.15L423.02 115.61L423.22 115.08L423.42 114.56L423.61 114.03L423.81 113.51L424 113L424.2 112.48L424.4 111.98L424.59 111.47L424.79 110.98L424.98 110.49L425.18 110L425.38 109.52L425.57 109.05L425.77 108.59L425.96 108.14L426.16 107.69L426.36 107.25L426.55 106.82L426.75 106.4L426.94 105.99L427.14 105.6L427.34 105.21L427.53 104.83L427.73 104.46L427.92 104.1L428.12 103.76L428.32 103.42L428.51 103.1L428.71 102.79L428.9 102.5L429.1 102.21L429.3 101.94L429.49 101.69L429.69 101.44L429.88 101.21L430.08 100.99L430.28 100.79L430.47 100.6L430.67 100.43L430.86 100.27L431.06 100.13L431.26 100L431.45 99.88L431.65 99.78L431.84 99.69L432.04 99.62L432.24 99.57L432.43 99.53L432.63 99.5L432.82 99.49L433.02 99.5L433.22 99.52L433.41 99.55L433.61 99.61L433.8 99.67L434 99.75L434.2 99.85L434.39 99.96L434.59 100.09L434.78 100.23L434.98 100.38L435.18 100.55L435.37 100.73L435.57 100.93L435.76 101.14L435.96 101.37L436.16 101.61L436.35 101.86L436.55 102.13L436.74 102.41L436.94 102.7L437.14 103.01L437.33 103.33L437.53 103.66L437.72 104L437.92 104.35L438.12 104.72L438.31 105.09L438.51 105.48L438.7 105.87L438.9 106.28L439.1 106.7L439.29 107.12L439.49 107.56L439.68 108L439.88 108.45L440.08 108.92L440.27 109.38L440.47 109.86L440.66 110.34L440.86 110.83L441.06 111.32L441.25 111.82L441.45 112.33L441.64 112.84L441.84 113.36L442.04 113.88L442.23 114.4L442.43 114.93L442.62 115.46L442.82 115.99L443.02 116.52L443.21 117.06L443.41 117.59L443.6 118.13L443.8 118.67L444 119.21L444.19 119.74L444.39 120.28L444.58 120.81L444.78 121.35L444.98 121.88L445.17 122.4L445.37 122.93L445.56 123.45L445.76 123.97L445.96 124.48L446.15 124.99L446.35 125.49L446.54 125.99L446.74 126.48L446.94 126.96L447.13 127.44L447.33 127.91L447.52 128.37L447.72 128.83L447.92 129.28L448.11 129.71L448.31 130.14L448.5 130.56L448.7 130.97L448.9 131.38L449.09 131.77L449.29 132.15L449.48 132.51L449.68 132.87L449.88 133.22L450.07 133.55L450.27 133.87L450.46 134.18L450.66 134.48L450.86 134.77L451.05 135.04L451.25 135.3L451.44 135.54L451.64 135.77L451.84 135.99L452.03 136.19L452.23 136.38L452.42 136.56L452.62 136.72L452.82 136.86L453.01 137L453.21 137.11L453.4 137.21L453.6 137.3L453.8 137.37L453.99 137.43L454.19 137.47L454.38 137.5L454.58 137.51L454.78 137.5L454.97 137.48L455.17 137.45L455.36 137.4L455.56 137.33L455.76 137.25L455.95 137.16L456.15 137.05L456.34 136.92L456.54 136.79L456.74 136.63L456.93 136.46L457.13 136.28L457.32 136.08L457.52 135.87L457.72 135.65L457.91 135.41L458.11 135.16L458.3 134.89L458.5 134.61L458.7 134.32L458.89 134.01L459.09 133.7L459.28 133.37L459.48 133.03L459.68 132.68L459.87 132.31L460.07 131.94L460.26 131.55L460.46 131.16L460.66 130.75L460.85 130.33L461.05 129.91L461.24 129.47L461.44 129.03L461.64 128.58L461.83 128.12L462.03 127.65L462.22 127.18L462.42 126.7L462.62 126.21L462.81 125.71L463.01 125.21L463.2 124.71L463.4 124.2L463.6 123.68L463.79 123.16L463.99 122.64L464.18 122.11L464.38 121.58L464.58 121.05L464.77 120.52L464.97 119.98L465.16 119.45L465.36 118.91L465.56 118.37L465.75 117.83L465.95 117.3L466.14 116.76L466.34 116.23L466.54 115.69L466.73 115.16L466.93 114.64L467.12 114.11L467.32 113.59L467.52 113.07L467.71 112.56L467.91 112.05L468.1 111.55L468.3 111.05L468.5 110.56L468.69 110.07L468.89 109.6L469.08 109.12L469.28 108.66L469.48 108.21L469.67 107.76L469.87 107.32L470.06 106.89L470.26 106.47L470.46 106.06L470.65 105.65L470.85 105.26L471.04 104.88L471.24 104.51L471.44 104.16L471.63 103.81L471.83 103.47L472.02 103.15L472.22 102.84L472.42 102.54L472.61 102.26L472.81 101.98L473 101.72L473.2 101.48L473.4 101.25L473.59 101.03L473.79 100.82L473.98 100.63L474.18 100.46L474.38 100.29L474.57 100.15L474.77 100.01L474.96 99.9L475.16 99.79L475.36 99.71L475.55 99.63L475.75 99.58L475.94 99.53L476.14 99.51L476.34 99.49L476.53 99.5L476.73 99.51L476.92 99.55L477.12 99.6L477.32 99.66L477.51 99.74L477.71 99.83L477.9 99.94L478.1 100.07L478.3 100.2L478.49 100.36L478.69 100.52L478.88 100.71L479.08 100.9L479.28 101.11L479.47 101.34L479.67 101.57L479.86 101.83L480.06 102.09L480.26 102.37L480.45 102.66L480.65 102.96L480.84 103.28L481.04 103.61L481.24 103.95L481.43 104.3L481.63 104.66L481.82 105.03L482.02 105.42L482.22 105.81L482.41 106.22L482.61 106.63L482.8 107.06L483 107.49L483.2 107.94L483.39 108.39L483.59 108.85L483.78 109.31L483.98 109.79L484.18 110.27L484.37 110.76L484.57 111.25L484.76 111.75L484.96 112.25L485.16 112.76L485.35 113.28L485.55 113.8L485.74 114.32L485.94 114.85L486.14 115.38L486.33 115.91L486.53 116.44L486.72 116.98L486.92 117.51L487.12 118.05L487.31 118.59L487.51 119.12L487.7 119.66L487.9 120.2L488.1 120.73L488.29 121.27L488.49 121.8L488.68 122.32L488.88 122.85L489.08 123.37L489.27 123.89L489.47 124.4L489.66 124.91L489.86 125.41L490.06 125.91L490.25 126.4L490.45 126.89L490.64 127.37L490.84 127.84L491.04 128.3L491.23 128.76L491.43 129.21L491.62 129.65L491.82 130.08L492.02 130.5L492.21 130.91L492.41 131.32L492.6 131.71L492.8 132.09L493 132.46L493.19 132.82L493.39 133.17L493.58 133.5L493.78 133.83L493.98 134.14L494.17 134.44L494.37 134.72L494.56 135L494.76 135.26L494.96 135.5L495.15 135.74L495.35 135.96L495.54 136.16L495.74 136.35L495.94 136.53L496.13 136.69L496.33 136.84L496.52 136.98L496.72 137.09L496.92 137.2L497.11 137.29L497.31 137.36L497.5 137.42L497.7 137.46L497.9 137.49L498.09 137.51L498.29 137.5L498.48 137.49L498.68 137.45L498.88 137.41L499.07 137.34L499.27 137.27L499.46 137.17L499.66 137.07L499.86 136.94L500.05 136.81L500.25 136.66L500.44 136.49L500.64 136.31L500.84 136.11L501.03 135.9L501.23 135.68L501.42 135.44L501.62 135.19L501.82 134.93L502.01 134.65L502.21 134.36L502.4 134.06L502.6 133.75L502.8 133.42L502.99 133.08L503.19 132.73L503.38 132.37L503.58 131.99L503.78 131.61L503.97 131.22L504.17 130.81L504.36 130.4L504.56 129.97L504.76 129.54L504.95 129.1L505.15 128.65L505.34 128.19L505.54 127.72L505.74 127.25L505.93 126.77L506.13 126.28L506.32 125.79L506.52 125.29L506.72 124.78L506.91 124.27L507.11 123.76L507.3 123.24L507.5 122.72L507.7 122.19L507.89 121.66L508.09 121.13L508.28 120.6L508.48 120.06L508.68 119.53L508.87 118.99L509.07 118.45L509.26 117.92L509.46 117.38L509.66 116.84L509.85 116.31L510.05 115.77L510.24 115.24L510.44 114.72L510.64 114.19L510.83 113.67L511.03 113.15L511.22 112.64L511.42 112.13L511.62 111.62L511.81 111.13L512.01 110.63L512.2 110.15L512.4 109.67L512.6 109.2L512.79 108.73L512.99 108.27L513.18 107.82L513.38 107.38L513.58 106.95L513.77 106.53L513.97 106.12L514.16 105.71L514.36 105.32L514.56 104.94L514.75 104.57L514.95 104.21L515.14 103.86L515.34 103.52L515.54 103.2L515.73 102.88L515.93 102.58L516.12 102.3L516.32 102.02L516.52 101.76L516.71 101.51L516.91 101.28L517.1 101.06L517.3 100.85L517.5 100.66L517.69 100.48L517.89 100.32L518.08 100.17L518.28 100.03L518.48 99.91L518.67 99.81L518.87 99.72L519.06 99.64L519.26 99.58L519.46 99.54L519.65 99.51L519.85 99.49L520.04 99.5L520.24 99.51L520.44 99.54L520.63 99.59L520.83 99.65L521.02 99.73L521.22 99.82L521.42 99.92L521.61 100.05L521.81 100.18L522 100.33L522.2 100.5L522.4 100.68L522.59 100.87L522.79 101.08L522.98 101.3L523.18 101.54L523.38 101.79L523.57 102.05L523.77 102.33L523.96 102.61L524.16 102.92L524.36 103.23L524.55 103.56L524.75 103.89L524.94 104.24L525.14 104.6L525.34 104.98L525.53 105.36L525.73 105.75L525.92 106.16L526.12 106.57L526.32 106.99L526.51 107.43L526.71 107.87L526.9 108.32L527.1 108.78L527.3 109.24L527.49 109.72L527.69 110.2L527.88 110.68L528.08 111.18L528.28 111.67L528.47 112.18L528.67 112.69L528.86 113.2L529.06 113.72L529.26 114.24L529.45 114.77L529.65 115.3L529.84 115.83L530.04 116.36L530.24 116.9L530.43 117.43L530.63 117.97L530.82 118.51L531.02 119.04L531.22 119.58L531.41 120.12L531.61 120.65L531.8 121.19L532 121.72L532.2 122.25L532.39 122.77L532.59 123.29L532.78 123.81L532.98 124.32L533.18 124.83L533.37 125.34L533.57 125.84L533.76 126.33L533.96 126.82L534.16 127.3L534.35 127.77L534.55 128.24L534.74 128.69L534.94 129.14L535.14 129.58L535.33 130.02L535.53 130.44L535.72 130.85L535.92 131.26L536.12 131.65L536.31 132.03L536.51 132.4L536.7 132.77L536.9 133.11L537.1 133.45L537.29 133.78L537.49 134.09L537.68 134.39L537.88 134.68L538.08 134.96L538.27 135.22L538.47 135.47L538.66 135.7L538.86 135.93L539.06 136.13L539.25 136.33L539.45 136.51L539.64 136.67L539.84 136.82L540.04 136.96L540.23 137.08L540.43 137.18L540.62 137.28L540.82 137.35L541.02 137.41L541.21 137.46L541.41 137.49L541.6 137.5L541.8 137.51L542 137.49L542.19 137.46L542.39 137.42L542.58 137.35L542.78 137.28L542.98 137.19L543.17 137.08L543.37 136.96L543.56 136.83L543.76 136.68L543.96 136.51L544.15 136.34L544.35 136.14L544.54 135.94L544.74 135.72L544.94 135.48L545.13 135.23L545.33 134.97L545.52 134.7L545.72 134.41L545.92 134.11L546.11 133.79L546.31 133.47L546.5 133.13L546.7 132.78L546.9 132.42L547.09 132.05L547.29 131.67L547.48 131.28L547.68 130.87L547.88 130.46L548.07 130.04L548.27 129.61L548.46 129.16L548.66 128.72L548.86 128.26L549.05 127.79L549.25 127.32L549.44 126.84L549.64 126.35L549.84 125.86L550.03 125.36L550.23 124.86L550.42 124.35L550.62 123.84L550.82 123.32L551.01 122.8L551.21 122.27L551.4 121.74L551.6 121.21L551.8 120.68L551.99 120.14L552.19 119.61L552.38 119.07L552.58 118.53L552.78 118L552.97 117.46L553.17 116.92L553.36 116.39L553.56 115.85L553.76 115.32L553.95 114.79L554.15 114.27L554.34 113.75L554.54 113.23L554.74 112.71L554.93 112.2L555.13 111.7L555.32 111.2L555.52 110.71L555.72 110.22L555.91 109.74L556.11 109.27L556.3 108.8L556.5 108.34L556.7 107.89L556.89 107.45L557.09 107.02L557.28 106.59L557.48 106.18L557.68 105.77L557.87 105.38L558.07 105L558.26 104.62L558.46 104.26L558.66 103.91L558.85 103.57L559.05 103.25L559.24 102.93L559.44 102.63L559.64 102.34L559.83 102.06L560.03 101.8L560.22 101.55L560.42 101.31L560.62 101.09L560.81 100.88L561.01 100.69L561.2 100.51L561.4 100.34L561.6 100.19L561.79 100.05L561.99 99.93L562.18 99.82L562.38 99.73L562.58 99.65L562.77 99.59L562.97 99.54L563.16 99.51L563.36 99.5L563.56 99.49L563.75 99.51L563.95 99.54L564.14 99.58L564.34 99.64L564.54 99.71L564.73 99.8L564.93 99.91L565.12 100.03L565.32 100.16L565.52 100.31L565.71 100.47L565.91 100.65L566.1 100.84L566.3 101.05L566.5 101.27L566.69 101.5L566.89 101.75L567.08 102.01L567.28 102.28L567.48 102.57L567.67 102.87L567.87 103.18L568.06 103.51L568.26 103.84L568.46 104.19L568.65 104.55L568.85 104.92L569.04 105.3L569.24 105.69L569.44 106.1L569.63 106.51L569.83 106.93L570.02 107.36L570.22 107.8L570.42 108.25L570.61 108.71L570.81 109.17L571 109.64L571.2 110.12L571.4 110.61L571.59 111.1L571.79 111.6L571.98 112.1L572.18 112.61L572.38 113.12L572.57 113.64L572.77 114.16L572.96 114.69L573.16 115.22L573.36 115.75L573.55 116.28L573.75 116.82L573.94 117.35L574.14 117.89L574.34 118.43L574.53 118.96L574.73 119.5L574.92 120.04L575.12 120.57L575.32 121.11L575.51 121.64L575.71 122.17L575.9 122.69L576.1 123.21L576.3 123.73L576.49 124.25L576.69 124.76L576.88 125.26L577.08 125.76L577.28 126.26L577.47 126.74L577.67 127.23L577.86 127.7L578.06 128.17L578.26 128.62L578.45 129.08L578.65 129.52L578.84 129.95L579.04 130.38L579.24 130.79L579.43 131.2L579.63 131.59L579.82 131.98L580.02 132.35L580.22 132.71L580.41 133.06L580.61 133.4L580.8 133.73L581 134.05L581.2 134.35L581.39 134.64L581.59 134.92L581.78 135.18L581.98 135.43L582.18 135.67L582.37 135.89L582.57 136.1L582.76 136.3L582.96 136.48L583.16 136.65L583.35 136.8L583.55 136.94L583.74 137.06L583.94 137.17L584.14 137.26L584.33 137.34L584.53 137.4L584.72 137.45L584.92 137.49L585.12 137.5L585.31 137.51L585.51 137.49L585.7 137.47L585.9 137.42L586.1 137.36L586.29 137.29L586.49 137.2L586.68 137.1L586.88 136.98L587.08 136.85L587.27 136.7L587.47 136.54L587.66 136.36L587.86 136.17L588.06 135.97L588.25 135.75L588.45 135.52L588.64 135.27L588.84 135.01L589.04 134.74L589.23 134.45L589.43 134.15L589.62 133.84L589.82 133.52L590.02 133.18L590.21 132.84L590.41 132.48L590.6 132.11L590.8 131.73L591 131.34L591.19 130.93L591.39 130.52L591.58 130.1L591.78 129.67L591.98 129.23L592.17 128.78L592.37 128.33L592.56 127.86L592.76 127.39L592.96 126.91L593.15 126.43L593.35 125.94L593.54 125.44L593.74 124.94L593.94 124.43L594.13 123.91L594.33 123.4L594.52 122.88L594.72 122.35L594.92 121.82L595.11 121.29L595.31 120.76L595.5 120.22L595.7 119.69L595.9 119.15L596.09 118.61L596.29 118.08L596.48 117.54L596.68 117L596.88 116.47L597.07 115.93L597.27 115.4L597.46 114.87L597.66 114.35L597.86 113.82L598.05 113.31L598.25 112.79L598.44 112.28L598.64 111.77L598.84 111.27L599.03 110.78L599.23 110.29L599.42 109.81L599.62 109.34L599.82 108.87L600.01 108.41L600.21 107.96L600.4 107.51L600.6 107.08L600.8 106.66L600.99 106.24L601.19 105.83L601.38 105.44L601.58 105.05L601.78 104.68L601.97 104.31L602.17 103.96L602.36 103.62L602.56 103.29L602.76 102.98L602.95 102.67L603.15 102.38L603.34 102.1L603.54 101.84L603.74 101.59L603.93 101.35L604.13 101.12L604.32 100.91L604.52 100.72L604.72 100.53L604.91 100.36L605.11 100.21L605.3 100.07L605.5 99.95L605.7 99.84L605.89 99.74L606.09 99.66L606.28 99.6L606.48 99.55L606.68 99.52L606.87 99.5L607.07 99.49L607.26 99.5L607.46 99.53L607.66 99.57L607.85 99.63L608.05 99.7L608.24 99.79L608.44 99.89L608.64 100.01L608.83 100.14L609.03 100.29L609.22 100.45L609.42 100.62L609.62 100.81L609.81 101.02L610.01 101.23L610.2 101.47L610.4 101.71L610.6 101.97L610.79 102.24L610.99 102.53L611.18 102.82L611.38 103.13L611.58 103.46L611.77 103.79L611.97 104.14L612.16 104.5L612.36 104.86L612.56 105.24L612.75 105.63L612.95 106.04L613.14 106.45L613.34 106.87L613.54 107.3L613.73 107.74L613.93 108.18L614.12 108.64L614.32 109.1L614.52 109.57L614.71 110.05L614.91 110.54L615.1 111.03L615.3 111.52L615.5 112.03L615.69 112.53L615.89 113.05L616.08 113.56L616.28 114.09L616.48 114.61L616.67 115.14L616.87 115.67L617.06 116.2L617.26 116.74L617.46 117.27L617.65 117.81L617.85 118.35L618.04 118.88L618.24 119.42L618.44 119.96L618.63 120.49L618.83 121.03L619.02 121.56L619.22 122.09L619.42 122.61L619.61 123.14L619.81 123.66L620 124.17L620.2 124.68L620.4 125.19L620.59 125.69L620.79 126.18L620.98 126.67L621.18 127.15L621.38 127.63L621.57 128.1L621.77 128.56L621.96 129.01L622.16 129.45L622.36 129.89L622.55 130.31L622.75 130.73L622.94 131.14L623.14 131.53L623.34 131.92L623.53 132.29L623.73 132.66L623.92 133.01L624.12 133.35L624.32 133.68L624.51 134L624.71 134.3L624.9 134.6L625.1 134.88L625.3 135.14L625.49 135.4L625.69 135.63L625.88 135.86L626.08 136.07L626.28 136.27L626.47 136.45L626.67 136.62L626.86 136.78L627.06 136.92L627.26 137.04L627.45 137.15L627.65 137.25L627.84 137.33L628.04 137.4L628.24 137.45L628.43 137.48L628.63 137.5L628.82 137.51L629.02 137.5L629.22 137.47L629.41 137.43L629.61 137.37L629.8 137.3L630 137.22L630.2 137.12L630.39 137L630.59 136.87L630.78 136.73L630.98 136.57L631.18 136.39L631.37 136.2L631.57 136L631.76 135.78L631.96 135.55L632.16 135.31L632.35 135.05L632.55 134.78L632.74 134.5L632.94 134.2L633.14 133.89L633.33 133.57L633.53 133.23L633.72 132.89L633.92 132.53L634.12 132.16L634.31 131.78L634.51 131.39L634.7 130.99L634.9 130.58L635.1 130.17L635.29 129.74L635.49 129.3L635.68 128.85L635.88 128.4L636.08 127.93L636.27 127.46L636.47 126.99L636.66 126.5L636.86 126.01L637.06 125.51L637.25 125.01L637.45 124.5L637.64 123.99L637.84 123.47L638.04 122.95L638.23 122.43L638.43 121.9L638.62 121.37L638.82 120.84L639.02 120.3L639.21 119.77L639.41 119.23L639.6 118.69L639.8 118.16L640 117.62L640.19 117.08L640.39 116.55L640.58 116.01L640.78 115.48L640.98 114.95L641.17 114.43L641.37 113.9L641.56 113.38L641.76 112.87L641.96 112.36L642.15 111.85L642.35 111.35L642.54 110.85L642.74 110.36L642.94 109.88L643.13 109.41L643.33 108.94L643.52 108.48L643.72 108.02L643.92 107.58L644.11 107.15L644.31 106.72L644.5 106.3L644.7 105.89L644.9 105.5L645.09 105.11L645.29 104.73L645.48 104.37L645.68 104.01L645.88 103.67L646.07 103.34L646.27 103.02L646.46 102.72L646.66 102.42L646.86 102.14L647.05 101.88L647.25 101.62L647.44 101.38L647.64 101.16L647.84 100.94L648.03 100.74L648.23 100.56L648.42 100.39L648.62 100.23L648.82 100.09L649.01 99.97L649.21 99.85L649.4 99.76L649.6 99.68L649.8 99.61L649.99 99.56L650.19 99.52L650.38 99.5L650.58 99.49L650.78 99.5L650.97 99.53L651.17 99.57L651.36 99.62L651.56 99.69L651.76 99.78L651.95 99.87L652.15 99.99L652.34 100.12L652.54 100.26L652.74 100.42L652.93 100.6L653.13 100.78L653.32 100.98L653.52 101.2L653.72 101.43L653.91 101.67L654.11 101.93L654.3 102.2L654.5 102.48L654.7 102.78L654.89 103.09L655.09 103.41L655.28 103.74L655.48 104.08L655.68 104.44L655.87 104.81L656.07 105.19L656.26 105.58L656.46 105.97L656.66 106.38L656.85 106.8L657.05 107.23L657.24 107.67L657.44 108.11L657.64 108.57L657.83 109.03L658.03 109.5L658.22 109.98L658.42 110.46L658.62 110.95L658.81 111.45L659.01 111.95L659.2 112.46L659.4 112.97L659.6 113.49L659.79 114.01L659.99 114.53L660.18 115.06L660.38 115.59L660.58 116.12L660.77 116.65L660.97 117.19L661.16 117.73L661.36 118.26L661.56 118.8L661.75 119.34L661.95 119.88L662.14 120.41L662.34 120.95L662.54 121.48L662.73 122.01L662.93 122.53L663.12 123.06L663.32 123.58L663.52 124.09L663.71 124.61L663.91 125.11L664.1 125.61L664.3 126.11L664.5 126.6L664.69 127.08L664.89 127.56L665.08 128.03L665.28 128.49L665.48 128.94L665.67 129.39L665.87 129.82L666.06 130.25L666.26 130.67L666.46 131.08L666.65 131.47L666.85 131.86L667.04 132.24L667.24 132.6L667.44 132.96L667.63 133.3L667.83 133.63L668.02 133.95L668.22 134.26L668.42 134.55L668.61 134.83L668.81 135.1L669 135.36L669.2 135.6L669.4 135.83L669.59 136.04L669.79 136.24L669.98 136.43L670.18 136.6L670.38 136.76L670.57 136.9L670.77 137.03L670.96 137.14L671.16 137.24L671.36 137.32L671.55 137.39L671.75 137.44L671.94 137.48L672.14 137.5L672.34 137.51L672.53 137.5L672.73 137.48L672.92 137.44L673.12 137.38L673.32 137.32L673.51 137.23L673.71 137.13L673.9 137.02L674.1 136.89L674.3 136.75L674.49 136.59L674.69 136.42L674.88 136.23L675.08 136.03L675.28 135.82L675.47 135.59L675.67 135.35L675.86 135.09L676.06 134.82L676.26 134.54L676.45 134.24L676.65 133.94L676.84 133.62L677.04 133.29L677.24 132.94L677.43 132.59L677.63 132.22L677.82 131.84L678.02 131.45L678.22 131.06L678.41 130.65L678.61 130.23L678.8 129.8L679 129.36" stroke="#0000ff" stroke-width="1.7" fill="none" clip-path="url(#clipb)"/>
<path d="M385 52.01L385.2 50.6L385.39 49.26L385.59 47.97L385.78 46.74L385.98 45.57L386.18 44.46L386.37 43.41L386.57 42.43L386.76 41.51L386.96 40.66L387.16 39.87L387.35 39.15L387.55 38.49L387.74 37.91L387.94 37.39L388.14 36.93L388.33 36.55L388.53 36.24L388.72 35.99L388.92 35.82L389.12 35.71L389.31 35.68L389.51 35.71L389.7 35.82L389.9 35.99L390.1 36.24L390.29 36.55L390.49 36.93L390.68 37.39L390.88 37.91L391.08 38.49L391.27 39.15L391.47 39.87L391.66 40.66L391.86 41.51L392.06 42.43L392.25 43.41L392.45 44.46L392.64 45.57L392.84 46.74L393.04 47.97L393.23 49.26L393.43 50.6L393.62 52.01L393.82 53.46L394.02 54.98L394.21 56.54L394.41 58.16L394.6 59.83L394.8 61.55L395 63.31L395.19 65.12L395.39 66.98L395.58 68.88L395.78 70.81L395.98 72.79L396.17 74.81L396.37 76.86L396.56 78.94L396.76 81.06L396.96 83.21L397.15 85.39L397.35 87.6L397.54 89.83L397.74 92.08L397.94 94.36L398.13 96.65L398.33 98.97L398.52 101.3L398.72 103.64L398.92 105.99L399.11 108.36L399.31 110.73L399.5 113.11L399.7 115.5L399.9 117.88L400.09 120.27L400.29 122.66L400.48 125.04L400.68 127.42L400.88 129.79L401.07 132.15L401.27 134.5L401.46 136.83L401.66 139.16L401.86 141.46L402.05 143.75L402.25 146.02L402.44 148.27L402.64 150.49L402.84 152.69L403.03 154.86L403.23 157L403.42 159.12L403.62 161.2L403.82 163.24L404.01 165.26L404.21 167.23L404.4 169.17L404.6 171.07L404.8 172.93L404.99 174.75L405.19 176.52L405.38 178.25L405.58 179.93L405.78 181.56L405.97 183.15L406.17 184.68L406.36 186.17L406.56 187.6L406.76 188.98L406.95 190.31L407.15 191.58L407.34 192.8L407.54 193.96L407.74 195.06L407.93 196.1L408.13 197.08L408.32 198.01L408.52 198.87L408.72 199.67L408.91 200.42L409.11 201.09L409.3 201.71L409.5 202.26L409.7 202.75L409.89 203.18L410.09 203.54L410.28 203.84L410.48 204.07L410.68 204.24L410.87 204.34L411.07 204.37L411.26 204.35L411.46 204.25L411.66 204.1L411.85 203.87L412.05 203.59L412.24 203.24L412.44 202.82L412.64 202.34L412.83 201.8L413.03 201.19L413.22 200.52L413.42 199.79L413.62 199L413.81 198.14L414.01 197.23L414.2 196.25L414.4 195.22L414.6 194.13L414.79 192.97L414.99 191.77L415.18 190.5L415.38 189.19L415.58 187.81L415.77 186.39L415.97 184.91L416.16 183.38L416.36 181.8L416.56 180.18L416.75 178.5L416.95 176.78L417.14 175.01L417.34 173.2L417.54 171.35L417.73 169.46L417.93 167.53L418.12 165.56L418.32 163.55L418.52 161.51L418.71 159.43L418.91 157.32L419.1 155.18L419.3 153.02L419.5 150.82L419.69 148.6L419.89 146.36L420.08 144.09L420.28 141.81L420.48 139.5L420.67 137.18L420.87 134.85L421.06 132.5L421.26 130.14L421.46 127.77L421.65 125.4L421.85 123.01L422.04 120.63L422.24 118.24L422.44 115.85L422.63 113.47L422.83 111.09L423.02 108.72L423.22 106.35L423.42 103.99L423.61 101.65L423.81 99.31L424 97L424.2 94.7L424.4 92.42L424.59 90.16L424.79 87.93L424.98 85.72L425.18 83.54L425.38 81.38L425.57 79.26L425.77 77.17L425.96 75.11L426.16 73.09L426.36 71.11L426.55 69.16L426.75 67.26L426.94 65.4L427.14 63.58L427.34 61.81L427.53 60.09L427.73 58.41L427.92 56.78L428.12 55.21L428.32 53.69L428.51 52.22L428.71 50.81L428.9 49.45L429.1 48.16L429.3 46.92L429.49 45.74L429.69 44.62L429.88 43.57L430.08 42.58L430.28 41.65L430.47 40.78L430.67 39.98L430.86 39.25L431.06 38.59L431.26 37.99L431.45 37.46L431.65 37L431.84 36.6L432.04 36.28L432.24 36.02L432.43 35.84L432.63 35.72L432.82 35.68L433.02 35.7L433.22 35.8L433.41 35.96L433.61 36.2L433.8 36.5L434 36.87L434.2 37.31L434.39 37.82L434.59 38.4L434.78 39.05L434.98 39.76L435.18 40.54L435.37 41.38L435.57 42.29L435.76 43.26L435.96 44.3L436.16 45.4L436.35 46.56L436.55 47.78L436.74 49.06L436.94 50.4L437.14 51.79L437.33 53.24L437.53 54.75L437.72 56.31L437.92 57.92L438.12 59.58L438.31 61.29L438.51 63.04L438.7 64.85L438.9 66.7L439.1 68.59L439.29 70.52L439.49 72.49L439.68 74.5L439.88 76.55L440.08 78.63L440.27 80.74L440.47 82.89L440.66 85.06L440.86 87.26L441.06 89.49L441.25 91.74L441.45 94.02L441.64 96.31L441.84 98.62L442.04 100.95L442.23 103.29L442.43 105.64L442.62 108L442.82 110.38L443.02 112.76L443.21 115.14L443.41 117.53L443.6 119.91L443.8 122.3L444 124.68L444.19 127.06L444.39 129.43L444.58 131.79L444.78 134.15L444.98 136.48L445.17 138.81L445.37 141.12L445.56 143.41L445.76 145.68L445.96 147.93L446.15 150.16L446.35 152.36L446.54 154.54L446.74 156.68L446.94 158.8L447.13 160.89L447.33 162.94L447.52 164.96L447.72 166.94L447.92 168.88L448.11 170.79L448.31 172.65L448.5 174.48L448.7 176.25L448.9 177.99L449.09 179.68L449.29 181.32L449.48 182.91L449.68 184.46L449.88 185.95L450.07 187.39L450.27 188.78L450.46 190.11L450.66 191.39L450.86 192.62L451.05 193.79L451.25 194.9L451.44 195.95L451.64 196.94L451.84 197.87L452.03 198.75L452.23 199.56L452.42 200.31L452.62 201L452.82 201.62L453.01 202.18L453.21 202.68L453.4 203.12L453.6 203.49L453.8 203.8L453.99 204.04L454.19 204.21L454.38 204.33L454.58 204.37L454.78 204.36L454.97 204.27L455.17 204.12L455.36 203.91L455.56 203.63L455.76 203.29L455.95 202.89L456.15 202.42L456.34 201.88L456.54 201.29L456.74 200.63L456.93 199.9L457.13 199.12L457.32 198.27L457.52 197.37L457.72 196.4L457.91 195.38L458.11 194.29L458.3 193.15L458.5 191.95L458.7 190.7L458.89 189.39L459.09 188.02L459.28 186.61L459.48 185.14L459.68 183.61L459.87 182.04L460.07 180.42L460.26 178.76L460.46 177.04L460.66 175.28L460.85 173.48L461.05 171.63L461.24 169.75L461.44 167.82L461.64 165.85L461.83 163.85L462.03 161.81L462.22 159.74L462.42 157.64L462.62 155.51L462.81 153.34L463.01 151.15L463.2 148.94L463.4 146.7L463.6 144.44L463.79 142.15L463.99 139.85L464.18 137.53L464.38 135.2L464.58 132.85L464.77 130.5L464.97 128.13L465.16 125.75L465.36 123.37L465.56 120.99L465.75 118.6L465.95 116.21L466.14 113.83L466.34 111.45L466.54 109.07L466.73 106.7L466.93 104.34L467.12 102L467.32 99.66L467.52 97.35L467.71 95.04L467.91 92.76L468.1 90.5L468.3 88.26L468.5 86.05L468.69 83.86L468.89 81.71L469.08 79.58L469.28 77.48L469.48 75.42L469.67 73.39L469.87 71.4L470.06 69.45L470.26 67.54L470.46 65.67L470.65 63.85L470.85 62.07L471.04 60.34L471.24 58.66L471.44 57.02L471.63 55.44L471.83 53.91L472.02 52.44L472.22 51.02L472.42 49.65L472.61 48.35L472.81 47.1L473 45.91L473.2 44.79L473.4 43.72L473.59 42.72L473.79 41.78L473.98 40.91L474.18 40.1L474.38 39.36L474.57 38.68L474.77 38.07L474.96 37.53L475.16 37.06L475.36 36.66L475.55 36.32L475.75 36.06L475.94 35.86L476.14 35.74L476.34 35.68L476.53 35.7L476.73 35.78L476.92 35.93L477.12 36.16L477.32 36.45L477.51 36.81L477.71 37.24L477.9 37.74L478.1 38.31L478.3 38.94L478.49 39.65L478.69 40.42L478.88 41.25L479.08 42.15L479.28 43.11L479.47 44.14L479.67 45.23L479.86 46.38L480.06 47.59L480.26 48.86L480.45 50.19L480.65 51.58L480.84 53.02L481.04 54.52L481.24 56.07L481.43 57.67L481.63 59.33L481.82 61.03L482.02 62.78L482.22 64.58L482.41 66.42L482.61 68.3L482.8 70.23L483 72.19L483.2 74.2L483.39 76.24L483.59 78.32L483.78 80.42L483.98 82.56L484.18 84.73L484.37 86.93L484.57 89.16L484.76 91.4L484.96 93.67L485.16 95.96L485.35 98.27L485.55 100.6L485.74 102.93L485.94 105.29L486.14 107.65L486.33 110.02L486.53 112.4L486.72 114.78L486.92 117.17L487.12 119.55L487.31 121.94L487.51 124.32L487.7 126.7L487.9 129.08L488.1 131.44L488.29 133.79L488.49 136.13L488.68 138.46L488.88 140.77L489.08 143.07L489.27 145.34L489.47 147.6L489.66 149.83L489.86 152.03L490.06 154.21L490.25 156.36L490.45 158.49L490.64 160.58L490.84 162.63L491.04 164.66L491.23 166.64L491.43 168.59L491.62 170.51L491.82 172.38L492.02 174.21L492.21 175.99L492.41 177.73L492.6 179.43L492.8 181.08L493 182.68L493.19 184.23L493.39 185.73L493.58 187.18L493.78 188.57L493.98 189.92L494.17 191.21L494.37 192.44L494.56 193.61L494.76 194.73L494.96 195.79L495.15 196.8L495.35 197.74L495.54 198.62L495.74 199.44L495.94 200.2L496.13 200.9L496.33 201.53L496.52 202.1L496.72 202.61L496.92 203.06L497.11 203.44L497.31 203.75L497.5 204L497.7 204.19L497.9 204.31L498.09 204.37L498.29 204.36L498.48 204.29L498.68 204.15L498.88 203.95L499.07 203.68L499.27 203.35L499.46 202.95L499.66 202.49L499.86 201.97L500.05 201.38L500.25 200.73L500.44 200.02L500.64 199.24L500.84 198.4L501.03 197.51L501.23 196.55L501.42 195.53L501.62 194.46L501.82 193.33L502.01 192.14L502.21 190.89L502.4 189.59L502.6 188.23L502.8 186.82L502.99 185.36L503.19 183.85L503.38 182.28L503.58 180.67L503.78 179.01L503.97 177.3L504.17 175.55L504.36 173.75L504.56 171.91L504.76 170.03L504.95 168.11L505.15 166.15L505.34 164.15L505.54 162.12L505.74 160.06L505.93 157.96L506.13 155.83L506.32 153.67L506.52 151.48L506.72 149.27L506.91 147.03L507.11 144.78L507.3 142.5L507.5 140.2L507.7 137.88L507.89 135.55L508.09 133.21L508.28 130.85L508.48 128.48L508.68 126.11L508.87 123.73L509.07 121.34L509.26 118.96L509.46 116.57L509.66 114.19L509.85 111.8L510.05 109.43L510.24 107.06L510.44 104.7L510.64 102.35L510.83 100.01L511.03 97.69L511.22 95.39L511.42 93.1L511.62 90.84L511.81 88.6L512.01 86.38L512.2 84.19L512.4 82.03L512.6 79.89L512.79 77.79L512.99 75.73L513.18 73.69L513.38 71.7L513.58 69.74L513.77 67.83L513.97 65.95L514.16 64.12L514.36 62.34L514.56 60.6L514.75 58.91L514.95 57.27L515.14 55.68L515.34 54.14L515.54 52.66L515.73 51.23L515.93 49.85L516.12 48.54L516.32 47.28L516.52 46.09L516.71 44.95L516.91 43.88L517.1 42.87L517.3 41.92L517.5 41.04L517.69 40.22L517.89 39.47L518.08 38.78L518.28 38.16L518.48 37.61L518.67 37.13L518.87 36.71L519.06 36.37L519.26 36.09L519.46 35.89L519.65 35.75L519.85 35.69L520.04 35.69L520.24 35.76L520.44 35.91L520.63 36.12L520.83 36.4L521.02 36.75L521.22 37.17L521.42 37.66L521.61 38.22L521.81 38.85L522 39.54L522.2 40.3L522.4 41.12L522.59 42.01L522.79 42.96L522.98 43.98L523.18 45.06L523.38 46.2L523.57 47.41L523.77 48.67L523.96 49.99L524.16 51.37L524.36 52.8L524.55 54.29L524.75 55.83L524.94 57.43L525.14 59.07L525.34 60.77L525.53 62.51L525.73 64.3L525.92 66.14L526.12 68.02L526.32 69.94L526.51 71.9L526.71 73.9L526.9 75.93L527.1 78L527.3 80.11L527.49 82.24L527.69 84.41L527.88 86.6L528.08 88.82L528.28 91.06L528.47 93.33L528.67 95.62L528.86 97.92L529.06 100.25L529.26 102.58L529.45 104.93L529.65 107.29L529.84 109.66L530.04 112.04L530.24 114.42L530.43 116.81L530.63 119.2L530.82 121.58L531.02 123.97L531.22 126.35L531.41 128.72L531.61 131.09L531.8 133.44L532 135.78L532.2 138.11L532.39 140.43L532.59 142.73L532.78 145L532.98 147.26L533.18 149.49L533.37 151.7L533.57 153.89L533.76 156.04L533.96 158.17L534.16 160.26L534.35 162.33L534.55 164.36L534.74 166.35L534.94 168.3L535.14 170.22L535.33 172.1L535.53 173.93L535.72 175.73L535.92 177.47L536.12 179.18L536.31 180.83L536.51 182.44L536.7 184L536.9 185.51L537.1 186.96L537.29 188.37L537.49 189.72L537.68 191.02L537.88 192.26L538.08 193.44L538.27 194.57L538.47 195.64L538.66 196.65L538.86 197.6L539.06 198.49L539.25 199.32L539.45 200.09L539.64 200.8L539.84 201.44L540.04 202.02L540.23 202.54L540.43 202.99L540.62 203.38L540.82 203.71L541.02 203.97L541.21 204.17L541.41 204.3L541.6 204.37L541.8 204.37L542 204.3L542.19 204.18L542.39 203.98L542.58 203.72L542.78 203.4L542.98 203.02L543.17 202.56L543.37 202.05L543.56 201.47L543.76 200.83L543.96 200.13L544.15 199.36L544.35 198.53L544.54 197.65L544.74 196.7L544.94 195.69L545.13 194.62L545.33 193.5L545.52 192.32L545.72 191.08L545.92 189.79L546.11 188.44L546.31 187.04L546.5 185.58L546.7 184.08L546.9 182.52L547.09 180.91L547.29 179.26L547.48 177.56L547.68 175.81L547.88 174.02L548.07 172.19L548.27 170.32L548.46 168.4L548.66 166.45L548.86 164.46L549.05 162.43L549.25 160.37L549.44 158.27L549.64 156.15L549.84 154L550.03 151.81L550.23 149.6L550.42 147.37L550.62 145.12L550.82 142.84L551.01 140.54L551.21 138.23L551.4 135.9L551.6 133.56L551.8 131.2L551.99 128.84L552.19 126.47L552.38 124.09L552.58 121.7L552.78 119.32L552.97 116.93L553.17 114.54L553.36 112.16L553.56 109.78L553.76 107.41L553.95 105.05L554.15 102.7L554.34 100.36L554.54 98.04L554.74 95.73L554.93 93.44L555.13 91.18L555.32 88.93L555.52 86.71L555.72 84.52L555.91 82.35L556.11 80.21L556.3 78.11L556.5 76.03L556.7 74L556.89 72L557.09 70.03L557.28 68.11L557.48 66.23L557.68 64.39L557.87 62.6L558.07 60.86L558.26 59.16L558.46 57.51L558.66 55.91L558.85 54.37L559.05 52.87L559.24 51.44L559.44 50.06L559.64 48.73L559.83 47.47L560.03 46.26L560.22 45.12L560.42 44.03L560.62 43.01L560.81 42.06L561.01 41.16L561.2 40.34L561.4 39.57L561.6 38.88L561.79 38.25L561.99 37.69L562.18 37.2L562.38 36.77L562.58 36.42L562.77 36.13L562.97 35.91L563.16 35.77L563.36 35.69L563.56 35.68L563.75 35.75L563.95 35.88L564.14 36.08L564.34 36.35L564.54 36.7L564.73 37.11L564.93 37.58L565.12 38.13L565.32 38.75L565.52 39.43L565.71 40.18L565.91 40.99L566.1 41.87L566.3 42.82L566.5 43.83L566.69 44.9L566.89 46.03L567.08 47.22L567.28 48.48L567.48 49.79L567.67 51.16L567.87 52.58L568.06 54.06L568.26 55.6L568.46 57.19L568.65 58.82L568.85 60.51L569.04 62.25L569.24 64.03L569.44 65.86L569.63 67.73L569.83 69.65L570.02 71.6L570.22 73.59L570.42 75.62L570.61 77.69L570.81 79.79L571 81.92L571.2 84.08L571.4 86.27L571.59 88.49L571.79 90.73L571.98 92.99L572.18 95.27L572.38 97.58L572.57 99.9L572.77 102.23L572.96 104.58L573.16 106.94L573.36 109.31L573.55 111.68L573.75 114.07L573.94 116.45L574.14 118.84L574.34 121.23L574.53 123.61L574.73 125.99L574.92 128.36L575.12 130.73L575.32 133.09L575.51 135.43L575.71 137.77L575.9 140.08L576.1 142.38L576.3 144.66L576.49 146.92L576.69 149.16L576.88 151.37L577.08 153.56L577.28 155.72L577.47 157.85L577.67 159.95L577.86 162.02L578.06 164.05L578.26 166.05L578.45 168.01L578.65 169.94L578.84 171.82L579.04 173.66L579.24 175.46L579.43 177.21L579.63 178.92L579.82 180.59L580.02 182.2L580.22 183.77L580.41 185.28L580.61 186.75L580.8 188.16L581 189.52L581.2 190.83L581.39 192.07L581.59 193.27L581.78 194.4L581.98 195.48L582.18 196.5L582.37 197.46L582.57 198.36L582.76 199.2L582.96 199.98L583.16 200.69L583.35 201.35L583.55 201.94L583.74 202.47L583.94 202.93L584.14 203.33L584.33 203.67L584.53 203.94L584.72 204.14L584.92 204.28L585.12 204.36L585.31 204.37L585.51 204.32L585.7 204.2L585.9 204.02L586.1 203.77L586.29 203.45L586.49 203.08L586.68 202.64L586.88 202.13L587.08 201.56L587.27 200.93L587.47 200.24L587.66 199.48L587.86 198.66L588.06 197.78L588.25 196.84L588.45 195.85L588.64 194.79L588.84 193.67L589.04 192.5L589.23 191.27L589.43 189.98L589.62 188.64L589.82 187.25L590.02 185.8L590.21 184.3L590.41 182.76L590.6 181.16L590.8 179.51L591 177.82L591.19 176.08L591.39 174.3L591.58 172.47L591.78 170.6L591.98 168.69L592.17 166.74L592.37 164.76L592.56 162.74L592.76 160.68L592.96 158.59L593.15 156.47L593.35 154.32L593.54 152.14L593.74 149.94L593.94 147.71L594.13 145.46L594.33 143.18L594.52 140.89L594.72 138.58L594.92 136.25L595.11 133.91L595.31 131.56L595.5 129.19L595.7 126.82L595.9 124.44L596.09 122.06L596.29 119.67L596.48 117.29L596.68 114.9L596.88 112.52L597.07 110.14L597.27 107.77L597.46 105.4L597.66 103.05L597.86 100.71L598.05 98.39L598.25 96.08L598.44 93.79L598.64 91.52L598.84 89.27L599.03 87.04L599.23 84.84L599.42 82.67L599.62 80.53L599.82 78.42L600.01 76.34L600.21 74.3L600.4 72.29L600.6 70.33L600.8 68.4L600.99 66.51L601.19 64.67L601.38 62.87L601.58 61.11L601.78 59.41L601.97 57.75L602.17 56.15L602.36 54.59L602.56 53.09L602.76 51.65L602.95 50.26L603.15 48.93L603.34 47.65L603.54 46.44L603.74 45.29L603.93 44.19L604.13 43.16L604.32 42.2L604.52 41.29L604.72 40.46L604.91 39.68L605.11 38.98L605.3 38.34L605.5 37.77L605.7 37.27L605.89 36.83L606.09 36.47L606.28 36.17L606.48 35.94L606.68 35.79L606.87 35.7L607.07 35.68L607.26 35.73L607.46 35.86L607.66 36.05L607.85 36.31L608.05 36.64L608.24 37.04L608.44 37.51L608.64 38.05L608.83 38.65L609.03 39.32L609.22 40.06L609.42 40.87L609.62 41.74L609.81 42.67L610.01 43.67L610.2 44.73L610.4 45.86L610.6 47.04L610.79 48.28L610.99 49.59L611.18 50.95L611.38 52.37L611.58 53.84L611.77 55.36L611.97 56.94L612.16 58.58L612.36 60.26L612.56 61.98L612.75 63.76L612.95 65.58L613.14 67.45L613.34 69.36L613.54 71.3L613.73 73.29L613.93 75.32L614.12 77.38L614.32 79.47L614.52 81.6L614.71 83.75L614.91 85.94L615.1 88.15L615.3 90.39L615.5 92.65L615.69 94.93L615.89 97.23L616.08 99.55L616.28 101.88L616.48 104.23L616.67 106.58L616.87 108.95L617.06 111.33L617.26 113.71L617.46 116.09L617.65 118.48L617.85 120.87L618.04 123.25L618.24 125.63L618.44 128.01L618.63 130.38L618.83 132.74L619.02 135.08L619.22 137.42L619.42 139.74L619.61 142.04L619.81 144.32L620 146.58L620.2 148.83L620.4 151.04L620.59 153.23L620.79 155.4L620.98 157.53L621.18 159.64L621.38 161.71L621.57 163.75L621.77 165.75L621.96 167.72L622.16 169.65L622.36 171.54L622.55 173.39L622.75 175.19L622.94 176.95L623.14 178.67L623.34 180.34L623.53 181.96L623.73 183.54L623.92 185.06L624.12 186.53L624.32 187.95L624.51 189.32L624.71 190.63L624.9 191.89L625.1 193.09L625.3 194.24L625.49 195.32L625.69 196.35L625.88 197.32L626.08 198.23L626.28 199.08L626.47 199.87L626.67 200.59L626.86 201.25L627.06 201.85L627.26 202.39L627.45 202.86L627.65 203.27L627.84 203.62L628.04 203.9L628.24 204.12L628.43 204.27L628.63 204.35L628.82 204.37L629.02 204.33L629.22 204.22L629.41 204.05L629.61 203.81L629.8 203.51L630 203.14L630.2 202.71L630.39 202.21L630.59 201.65L630.78 201.03L630.98 200.34L631.18 199.6L631.37 198.79L631.57 197.92L631.76 196.99L631.96 196L632.16 194.95L632.35 193.84L632.55 192.68L632.74 191.46L632.94 190.18L633.14 188.85L633.33 187.46L633.53 186.02L633.72 184.53L633.92 182.99L634.12 181.4L634.31 179.76L634.51 178.08L634.7 176.34L634.9 174.57L635.1 172.75L635.29 170.88L635.49 168.98L635.68 167.04L635.88 165.06L636.08 163.04L636.27 160.99L636.47 158.91L636.66 156.79L636.86 154.64L637.06 152.47L637.25 150.27L637.45 148.04L637.64 145.79L637.84 143.52L638.04 141.23L638.23 138.93L638.43 136.6L638.62 134.26L638.82 131.91L639.02 129.55L639.21 127.18L639.41 124.8L639.6 122.42L639.8 120.03L640 117.64L640.19 115.26L640.39 112.87L640.58 110.5L640.78 108.12L640.98 105.76L641.17 103.4L641.37 101.06L641.56 98.73L641.76 96.42L641.96 94.13L642.15 91.86L642.35 89.6L642.54 87.38L642.74 85.17L642.94 83L643.13 80.85L643.33 78.73L643.52 76.65L643.72 74.6L643.92 72.59L644.11 70.62L644.31 68.68L644.5 66.79L644.7 64.94L644.9 63.13L645.09 61.37L645.29 59.66L645.48 58L645.68 56.39L645.88 54.82L646.07 53.32L646.27 51.86L646.46 50.47L646.66 49.12L646.86 47.84L647.05 46.62L647.25 45.46L647.44 44.35L647.64 43.31L647.84 42.34L648.03 41.42L648.23 40.58L648.42 39.8L648.62 39.08L648.82 38.43L649.01 37.85L649.21 37.34L649.4 36.89L649.6 36.52L649.8 36.21L649.99 35.97L650.19 35.8L650.38 35.71L650.58 35.68L650.78 35.72L650.97 35.83L651.17 36.01L651.36 36.27L651.56 36.59L651.76 36.98L651.95 37.43L652.15 37.96L652.34 38.56L652.54 39.22L652.74 39.95L652.93 40.74L653.13 41.6L653.32 42.53L653.52 43.52L653.72 44.57L653.91 45.68L654.11 46.86L654.3 48.09L654.5 49.39L654.7 50.74L654.89 52.15L655.09 53.61L655.28 55.13L655.48 56.7L655.68 58.33L655.87 60L656.07 61.72L656.26 63.49L656.46 65.31L656.66 67.17L656.85 69.07L657.05 71.01L657.24 72.99L657.44 75.01L657.64 77.07L657.83 79.16L658.03 81.28L658.22 83.43L658.42 85.61L658.62 87.82L658.81 90.05L659.01 92.31L659.2 94.59L659.4 96.88L659.6 99.2L659.79 101.53L659.99 103.87L660.18 106.23L660.38 108.6L660.58 110.97L660.77 113.35L660.97 115.74L661.16 118.12L661.36 120.51L661.56 122.89L661.75 125.28L661.95 127.65L662.14 130.02L662.34 132.38L662.54 134.73L662.73 137.07L662.93 139.39L663.12 141.69L663.32 143.98L663.52 146.25L663.71 148.49L663.91 150.71L664.1 152.91L664.3 155.08L664.5 157.22L664.69 159.33L664.89 161.4L665.08 163.45L665.28 165.46L665.48 167.43L665.67 169.36L665.87 171.26L666.06 173.11L666.26 174.92L666.46 176.69L666.65 178.42L666.85 180.09L667.04 181.72L667.24 183.3L667.44 184.83L667.63 186.32L667.83 187.74L668.02 189.12L668.22 190.44L668.42 191.71L668.61 192.92L668.81 194.07L669 195.16L669.2 196.2L669.4 197.18L669.59 198.1L669.79 198.96L669.98 199.75L670.18 200.49L670.38 201.16L670.57 201.77L670.77 202.31L670.96 202.8L671.16 203.22L671.36 203.57L671.55 203.86L671.75 204.09L671.94 204.25L672.14 204.34L672.34 204.37L672.53 204.34L672.73 204.24L672.92 204.08L673.12 203.85L673.32 203.56L673.51 203.2L673.71 202.77L673.9 202.29L674.1 201.74L674.3 201.13L674.49 200.45L674.69 199.71L674.88 198.91L675.08 198.05L675.28 197.13L675.47 196.15L675.67 195.11L675.86 194.01L676.06 192.86L676.26 191.64L676.45 190.37L676.65 189.05L676.84 187.67L677.04 186.24L677.24 184.76L677.43 183.23L677.63 181.64L677.82 180.01L678.02 178.33L678.22 176.61L678.41 174.84L678.61 173.02L678.8 171.16L679 169.27" stroke="#ff0000" stroke-width="1.55" fill="none" stroke-dasharray="6 4.6" clip-path="url(#clipb)"/>
<path d="M385 172.56L385.2 173.59L385.39 174.58L385.59 175.53L385.78 176.43L385.98 177.29L386.18 178.1L386.37 178.87L386.57 179.59L386.76 180.26L386.96 180.89L387.16 181.47L387.35 181.99L387.55 182.47L387.74 182.9L387.94 183.28L388.14 183.61L388.33 183.89L388.53 184.12L388.72 184.3L388.92 184.43L389.12 184.5L389.31 184.53L389.51 184.5L389.7 184.43L389.9 184.3L390.1 184.12L390.29 183.89L390.49 183.61L390.68 183.28L390.88 182.9L391.08 182.47L391.27 181.99L391.47 181.47L391.66 180.89L391.86 180.26L392.06 179.59L392.25 178.87L392.45 178.1L392.64 177.29L392.84 176.43L393.04 175.53L393.23 174.58L393.43 173.59L393.62 172.56L393.82 171.48L394.02 170.36L394.21 169.2L394.41 168.01L394.6 166.77L394.8 165.5L395 164.19L395.19 162.84L395.39 161.46L395.58 160.04L395.78 158.6L395.98 157.12L396.17 155.61L396.37 154.07L396.56 152.51L396.76 150.92L396.96 149.3L397.15 147.66L397.35 145.99L397.54 144.3L397.74 142.6L397.94 140.87L398.13 139.13L398.33 137.37L398.52 135.59L398.72 133.8L398.92 132L399.11 130.19L399.31 128.37L399.5 126.54L399.7 124.7L399.9 122.86L400.09 121.02L400.29 119.17L400.48 117.33L400.68 115.48L400.88 113.64L401.07 111.8L401.27 109.97L401.46 108.14L401.66 106.32L401.86 104.51L402.05 102.71L402.25 100.93L402.44 99.16L402.64 97.4L402.84 95.67L403.03 93.95L403.23 92.25L403.42 90.57L403.62 88.92L403.82 87.28L404.01 85.68L404.21 84.1L404.4 82.55L404.6 81.03L404.8 79.54L404.99 78.08L405.19 76.65L405.38 75.26L405.58 73.9L405.78 72.58L405.97 71.3L406.17 70.06L406.36 68.86L406.56 67.69L406.76 66.57L406.95 65.49L407.15 64.46L407.34 63.47L407.54 62.53L407.74 61.63L407.93 60.78L408.13 59.97L408.32 59.22L408.52 58.51L408.72 57.85L408.91 57.25L409.11 56.69L409.3 56.19L409.5 55.73L409.7 55.33L409.89 54.98L410.09 54.69L410.28 54.44L410.48 54.25L410.68 54.11L410.87 54.03L411.07 54L411.26 54.02L411.46 54.1L411.66 54.23L411.85 54.41L412.05 54.65L412.24 54.93L412.44 55.28L412.64 55.67L412.83 56.11L413.03 56.61L413.22 57.16L413.42 57.76L413.62 58.41L413.81 59.11L414.01 59.86L414.2 60.65L414.4 61.5L414.6 62.39L414.79 63.33L414.99 64.31L415.18 65.34L415.38 66.41L415.58 67.52L415.77 68.68L415.97 69.88L416.16 71.11L416.36 72.39L416.56 73.7L416.75 75.05L416.95 76.44L417.14 77.86L417.34 79.32L417.54 80.8L417.73 82.32L417.93 83.87L418.12 85.44L418.32 87.04L418.52 88.67L418.71 90.32L418.91 92L419.1 93.69L419.3 95.41L419.5 97.14L419.69 98.89L419.89 100.66L420.08 102.45L420.28 104.24L420.48 106.05L420.67 107.87L420.87 109.69L421.06 111.52L421.26 113.36L421.46 115.2L421.65 117.05L421.85 118.9L422.04 120.74L422.24 122.59L422.44 124.43L422.63 126.26L422.83 128.09L423.02 129.92L423.22 131.73L423.42 133.53L423.61 135.32L423.81 137.1L424 138.86L424.2 140.61L424.4 142.34L424.59 144.05L424.79 145.74L424.98 147.41L425.18 149.05L425.38 150.67L425.57 152.27L425.77 153.84L425.96 155.38L426.16 156.9L426.36 158.38L426.55 159.83L426.75 161.25L426.94 162.64L427.14 163.99L427.34 165.3L427.53 166.58L427.73 167.82L427.92 169.03L428.12 170.19L428.32 171.31L428.51 172.4L428.71 173.44L428.9 174.44L429.1 175.39L429.3 176.3L429.49 177.17L429.69 177.99L429.88 178.76L430.08 179.49L430.28 180.17L430.47 180.8L430.67 181.38L430.86 181.92L431.06 182.4L431.26 182.84L431.45 183.23L431.65 183.57L431.84 183.85L432.04 184.09L432.24 184.28L432.43 184.41L432.63 184.49L432.82 184.53L433.02 184.51L433.22 184.44L433.41 184.32L433.61 184.15L433.8 183.93L434 183.66L434.2 183.34L434.39 182.96L434.59 182.54L434.78 182.07L434.98 181.55L435.18 180.98L435.37 180.36L435.57 179.7L435.76 178.98L435.96 178.22L436.16 177.42L436.35 176.56L436.55 175.67L436.74 174.73L436.94 173.74L437.14 172.71L437.33 171.64L437.53 170.53L437.72 169.38L437.92 168.19L438.12 166.96L438.31 165.69L438.51 164.38L438.7 163.04L438.9 161.67L439.1 160.26L439.29 158.82L439.49 157.34L439.68 155.84L439.88 154.31L440.08 152.74L440.27 151.16L440.47 149.54L440.66 147.9L440.86 146.24L441.06 144.56L441.25 142.85L441.45 141.13L441.64 139.39L441.84 137.63L442.04 135.86L442.23 134.07L442.43 132.27L442.62 130.46L442.82 128.64L443.02 126.81L443.21 124.98L443.41 123.14L443.6 121.3L443.8 119.45L444 117.6L444.19 115.76L444.39 113.91L444.58 112.07L444.78 110.24L444.98 108.41L445.17 106.59L445.37 104.78L445.56 102.98L445.76 101.2L445.96 99.42L446.15 97.67L446.35 95.93L446.54 94.2L446.74 92.5L446.94 90.82L447.13 89.16L447.33 87.53L447.52 85.92L447.72 84.33L447.92 82.78L448.11 81.25L448.31 79.76L448.5 78.29L448.7 76.86L448.9 75.47L449.09 74.1L449.29 72.78L449.48 71.49L449.68 70.24L449.88 69.03L450.07 67.86L450.27 66.74L450.46 65.65L450.66 64.61L450.86 63.62L451.05 62.66L451.25 61.76L451.44 60.9L451.64 60.09L451.84 59.33L452.03 58.61L452.23 57.95L452.42 57.33L452.62 56.77L452.82 56.26L453.01 55.8L453.21 55.39L453.4 55.03L453.6 54.73L453.8 54.47L453.99 54.28L454.19 54.13L454.38 54.04L454.58 54L454.78 54.01L454.97 54.08L455.17 54.2L455.36 54.38L455.56 54.61L455.76 54.89L455.95 55.22L456.15 55.61L456.34 56.04L456.54 56.53L456.74 57.07L456.93 57.67L457.13 58.31L457.32 59L457.52 59.74L457.72 60.53L457.91 61.37L458.11 62.25L458.3 63.18L458.5 64.16L458.7 65.18L458.89 66.24L459.09 67.35L459.28 68.5L459.48 69.69L459.68 70.93L459.87 72.2L460.07 73.5L460.26 74.85L460.46 76.23L460.66 77.65L460.85 79.1L461.05 80.58L461.24 82.09L461.44 83.63L461.64 85.2L461.83 86.8L462.03 88.42L462.22 90.07L462.42 91.74L462.62 93.44L462.81 95.15L463.01 96.88L463.2 98.63L463.4 100.4L463.6 102.18L463.79 103.97L463.99 105.78L464.18 107.59L464.38 109.42L464.58 111.25L464.77 113.09L464.97 114.93L465.16 116.77L465.36 118.62L465.56 120.47L465.75 122.31L465.95 124.15L466.14 125.99L466.34 127.82L466.54 129.64L466.73 131.46L466.93 133.26L467.12 135.05L467.32 136.83L467.52 138.6L467.71 140.35L467.91 142.08L468.1 143.79L468.3 145.49L468.5 147.16L468.69 148.81L468.89 150.43L469.08 152.03L469.28 153.61L469.48 155.15L469.67 156.67L469.87 158.16L470.06 159.61L470.26 161.04L470.46 162.43L470.65 163.79L470.85 165.11L471.04 166.39L471.24 167.64L471.44 168.85L471.63 170.02L471.83 171.15L472.02 172.24L472.22 173.28L472.42 174.29L472.61 175.25L472.81 176.17L473 177.04L473.2 177.87L473.4 178.65L473.59 179.38L473.79 180.07L473.98 180.71L474.18 181.3L474.38 181.84L474.57 182.34L474.77 182.78L474.96 183.17L475.16 183.52L475.36 183.81L475.55 184.06L475.75 184.25L475.94 184.39L476.14 184.49L476.34 184.53L476.53 184.52L476.73 184.45L476.92 184.34L477.12 184.18L477.32 183.97L477.51 183.7L477.71 183.39L477.9 183.02L478.1 182.61L478.3 182.14L478.49 181.63L478.69 181.07L478.88 180.46L479.08 179.8L479.28 179.09L479.47 178.34L479.67 177.54L479.86 176.7L480.06 175.8L480.26 174.87L480.45 173.89L480.65 172.87L480.84 171.81L481.04 170.7L481.24 169.56L481.43 168.37L481.63 167.14L481.82 165.88L482.02 164.58L482.22 163.25L482.41 161.88L482.61 160.47L482.8 159.04L483 157.57L483.2 156.07L483.39 154.54L483.59 152.98L483.78 151.4L483.98 149.79L484.18 148.15L484.37 146.49L484.57 144.81L484.76 143.11L484.96 141.39L485.16 139.65L485.35 137.89L485.55 136.12L485.74 134.34L485.94 132.54L486.14 130.73L486.33 128.91L486.53 127.09L486.72 125.25L486.92 123.41L487.12 121.57L487.31 119.73L487.51 117.88L487.7 116.03L487.9 114.19L488.1 112.35L488.29 110.51L488.49 108.69L488.68 106.86L488.88 105.05L489.08 103.25L489.27 101.46L489.47 99.69L489.66 97.93L489.86 96.19L490.06 94.46L490.25 92.76L490.45 91.07L490.64 89.41L490.84 87.77L491.04 86.16L491.23 84.57L491.43 83.01L491.62 81.48L491.82 79.98L492.02 78.51L492.21 77.08L492.41 75.67L492.6 74.31L492.8 72.98L493 71.68L493.19 70.43L493.39 69.21L493.58 68.04L493.78 66.9L493.98 65.81L494.17 64.77L494.37 63.76L494.56 62.8L494.76 61.89L494.96 61.03L495.15 60.21L495.35 59.44L495.54 58.72L495.74 58.05L495.94 57.42L496.13 56.85L496.33 56.33L496.52 55.86L496.72 55.45L496.92 55.08L497.11 54.77L497.31 54.51L497.5 54.3L497.7 54.15L497.9 54.05L498.09 54L498.29 54.01L498.48 54.07L498.68 54.18L498.88 54.35L499.07 54.57L499.27 54.84L499.46 55.17L499.66 55.55L499.86 55.98L500.05 56.46L500.25 56.99L500.44 57.57L500.64 58.21L500.84 58.89L501.03 59.63L501.23 60.41L501.42 61.24L501.62 62.12L501.82 63.04L502.01 64.01L502.21 65.02L502.4 66.08L502.6 67.18L502.8 68.33L502.99 69.51L503.19 70.74L503.38 72L503.58 73.31L503.78 74.65L503.97 76.02L504.17 77.43L504.36 78.88L504.56 80.35L504.76 81.86L504.95 83.4L505.15 84.96L505.34 86.56L505.54 88.18L505.74 89.82L505.93 91.49L506.13 93.18L506.32 94.89L506.52 96.62L506.72 98.37L506.91 100.13L507.11 101.91L507.3 103.7L507.5 105.5L507.7 107.32L507.89 109.14L508.09 110.97L508.28 112.81L508.48 114.65L508.68 116.5L508.87 118.34L509.07 120.19L509.26 122.03L509.46 123.88L509.66 125.71L509.85 127.54L510.05 129.37L510.24 131.19L510.44 132.99L510.64 134.79L510.83 136.57L511.03 138.34L511.22 140.09L511.42 141.82L511.62 143.54L511.81 145.23L512.01 146.91L512.2 148.56L512.4 150.19L512.6 151.79L512.79 153.37L512.99 154.92L513.18 156.44L513.38 157.94L513.58 159.4L513.77 160.83L513.97 162.22L514.16 163.58L514.36 164.91L514.56 166.2L514.75 167.45L514.95 168.67L515.14 169.85L515.34 170.98L515.54 172.08L515.73 173.13L515.93 174.14L516.12 175.11L516.32 176.03L516.52 176.91L516.71 177.74L516.91 178.53L517.1 179.27L517.3 179.97L517.5 180.61L517.69 181.21L517.89 181.76L518.08 182.26L518.28 182.72L518.48 183.12L518.67 183.47L518.87 183.77L519.06 184.02L519.26 184.23L519.46 184.38L519.65 184.47L519.85 184.52L520.04 184.52L520.24 184.47L520.44 184.36L520.63 184.21L520.83 184L521.02 183.74L521.22 183.44L521.42 183.08L521.61 182.67L521.81 182.22L522 181.71L522.2 181.16L522.4 180.55L522.59 179.9L522.79 179.2L522.98 178.46L523.18 177.66L523.38 176.82L523.57 175.94L523.77 175.01L523.96 174.04L524.16 173.03L524.36 171.97L524.55 170.87L524.75 169.73L524.94 168.55L525.14 167.33L525.34 166.07L525.53 164.78L525.73 163.45L525.92 162.08L526.12 160.69L526.32 159.25L526.51 157.79L526.71 156.29L526.9 154.77L527.1 153.22L527.3 151.64L527.49 150.03L527.69 148.4L527.88 146.74L528.08 145.06L528.28 143.37L528.47 141.65L528.67 139.91L528.86 138.16L529.06 136.39L529.26 134.61L529.45 132.81L529.65 131L529.84 129.19L530.04 127.36L530.24 125.53L530.43 123.69L530.63 121.85L530.82 120L531.02 118.16L531.22 116.31L531.41 114.47L531.61 112.63L531.8 110.79L532 108.96L532.2 107.14L532.39 105.32L532.59 103.52L532.78 101.73L532.98 99.95L533.18 98.19L533.37 96.45L533.57 94.72L533.76 93.01L533.96 91.32L534.16 89.66L534.35 88.02L534.55 86.4L534.74 84.81L534.94 83.24L535.14 81.71L535.33 80.2L535.53 78.73L535.72 77.29L535.92 75.88L536.12 74.51L536.31 73.17L536.51 71.87L536.7 70.61L536.9 69.39L537.1 68.21L537.29 67.07L537.49 65.97L537.68 64.92L537.88 63.91L538.08 62.94L538.27 62.03L538.47 61.15L538.66 60.33L538.86 59.55L539.06 58.82L539.25 58.14L539.45 57.51L539.64 56.93L539.84 56.41L540.04 55.93L540.23 55.51L540.43 55.13L540.62 54.81L540.82 54.54L541.02 54.33L541.21 54.17L541.41 54.06L541.6 54.01L541.8 54L542 54.06L542.19 54.16L542.39 54.32L542.58 54.53L542.78 54.8L542.98 55.12L543.17 55.49L543.37 55.91L543.56 56.38L543.76 56.91L543.96 57.48L544.15 58.11L544.35 58.79L544.54 59.51L544.74 60.29L544.94 61.11L545.13 61.98L545.33 62.9L545.52 63.86L545.72 64.87L545.92 65.92L546.11 67.02L546.31 68.15L546.5 69.33L546.7 70.55L546.9 71.81L547.09 73.11L547.29 74.44L547.48 75.81L547.68 77.22L547.88 78.66L548.07 80.13L548.27 81.63L548.46 83.17L548.66 84.73L548.86 86.32L549.05 87.93L549.25 89.57L549.44 91.24L549.64 92.93L549.84 94.63L550.03 96.36L550.23 98.1L550.42 99.87L550.62 101.64L550.82 103.43L551.01 105.23L551.21 107.05L551.4 108.87L551.6 110.7L551.8 112.53L551.99 114.37L552.19 116.22L552.38 118.06L552.58 119.91L552.78 121.76L552.97 123.6L553.17 125.44L553.36 127.27L553.56 129.1L553.76 130.91L553.95 132.72L554.15 134.52L554.34 136.3L554.54 138.07L554.74 139.83L554.93 141.56L555.13 143.28L555.32 144.98L555.52 146.66L555.72 148.31L555.91 149.95L556.11 151.56L556.3 153.14L556.5 154.69L556.7 156.22L556.89 157.71L557.09 159.18L557.28 160.61L557.48 162.02L557.68 163.38L557.87 164.71L558.07 166.01L558.26 167.27L558.46 168.49L558.66 169.67L558.85 170.81L559.05 171.91L559.24 172.97L559.44 173.99L559.64 174.97L559.83 175.9L560.03 176.78L560.22 177.62L560.42 178.42L560.62 179.17L560.81 179.87L561.01 180.52L561.2 181.13L561.4 181.68L561.6 182.19L561.79 182.65L561.99 183.06L562.18 183.42L562.38 183.73L562.58 183.99L562.77 184.2L562.97 184.36L563.16 184.46L563.36 184.52L563.56 184.52L563.75 184.48L563.95 184.38L564.14 184.23L564.34 184.04L564.54 183.79L564.73 183.49L564.93 183.14L565.12 182.74L565.32 182.29L565.52 181.79L565.71 181.24L565.91 180.65L566.1 180L566.3 179.31L566.5 178.57L566.69 177.79L566.89 176.95L567.08 176.08L567.28 175.16L567.48 174.19L567.67 173.18L567.87 172.13L568.06 171.04L568.26 169.9L568.46 168.73L568.65 167.52L568.85 166.27L569.04 164.98L569.24 163.65L569.44 162.29L569.63 160.9L569.83 159.47L570.02 158.01L570.22 156.52L570.42 155L570.61 153.45L570.81 151.87L571 150.27L571.2 148.64L571.4 146.99L571.59 145.32L571.79 143.62L571.98 141.91L572.18 140.17L572.38 138.42L572.57 136.66L572.77 134.88L572.96 133.08L573.16 131.28L573.36 129.46L573.55 127.64L573.75 125.8L573.94 123.97L574.14 122.13L574.34 120.28L574.53 118.43L574.73 116.59L574.92 114.74L575.12 112.9L575.32 111.06L575.51 109.23L575.71 107.41L575.9 105.6L576.1 103.79L576.3 102L576.49 100.22L576.69 98.46L576.88 96.71L577.08 94.98L577.28 93.27L577.47 91.57L577.67 89.91L577.86 88.26L578.06 86.64L578.26 85.04L578.45 83.48L578.65 81.94L578.84 80.43L579.04 78.95L579.24 77.5L579.43 76.09L579.63 74.71L579.82 73.37L580.02 72.07L580.22 70.8L580.41 69.57L580.61 68.39L580.8 67.24L581 66.14L581.2 65.08L581.39 64.06L581.59 63.09L581.78 62.16L581.98 61.28L582.18 60.45L582.37 59.66L582.57 58.93L582.76 58.24L582.96 57.6L583.16 57.02L583.35 56.48L583.55 56L583.74 55.57L583.94 55.18L584.14 54.86L584.33 54.58L584.53 54.36L584.72 54.19L584.92 54.07L585.12 54.01L585.31 54L585.51 54.05L585.7 54.14L585.9 54.29L586.1 54.5L586.29 54.75L586.49 55.06L586.68 55.43L586.88 55.84L587.08 56.31L587.27 56.82L587.47 57.39L587.66 58.01L587.86 58.68L588.06 59.4L588.25 60.17L588.45 60.98L588.64 61.85L588.84 62.76L589.04 63.71L589.23 64.71L589.43 65.76L589.62 66.85L589.82 67.98L590.02 69.15L590.21 70.37L590.41 71.62L590.6 72.91L590.8 74.24L591 75.6L591.19 77L591.39 78.44L591.58 79.91L591.78 81.4L591.98 82.93L592.17 84.49L592.37 86.08L592.56 87.69L592.76 89.33L592.96 90.99L593.15 92.67L593.35 94.38L593.54 96.1L593.74 97.84L593.94 99.6L594.13 101.37L594.33 103.16L594.52 104.96L594.72 106.77L594.92 108.59L595.11 110.42L595.31 112.26L595.5 114.1L595.7 115.94L595.9 117.79L596.09 119.63L596.29 121.48L596.48 123.32L596.68 125.16L596.88 127L597.07 128.82L597.27 130.64L597.46 132.45L597.66 134.25L597.86 136.04L598.05 137.81L598.25 139.56L598.44 141.3L598.64 143.02L598.84 144.73L599.03 146.41L599.23 148.07L599.42 149.7L599.62 151.32L599.82 152.9L600.01 154.46L600.21 155.99L600.4 157.49L600.6 158.96L600.8 160.4L600.99 161.81L601.19 163.18L601.38 164.52L601.58 165.82L601.78 167.08L601.97 168.31L602.17 169.5L602.36 170.64L602.56 171.75L602.76 172.82L602.95 173.84L603.15 174.82L603.34 175.76L603.54 176.65L603.74 177.5L603.93 178.3L604.13 179.06L604.32 179.76L604.52 180.43L604.72 181.04L604.91 181.6L605.11 182.12L605.3 182.59L605.5 183L605.7 183.37L605.89 183.69L606.09 183.95L606.28 184.17L606.48 184.34L606.68 184.45L606.87 184.51L607.07 184.53L607.26 184.49L607.46 184.4L607.66 184.26L607.85 184.07L608.05 183.83L608.24 183.53L608.44 183.19L608.64 182.8L608.83 182.36L609.03 181.87L609.22 181.33L609.42 180.74L609.62 180.1L609.81 179.42L610.01 178.68L610.2 177.91L610.4 177.08L610.6 176.21L610.79 175.3L610.99 174.34L611.18 173.34L611.38 172.29L611.58 171.2L611.77 170.08L611.97 168.91L612.16 167.7L612.36 166.46L612.56 165.17L612.75 163.85L612.95 162.5L613.14 161.11L613.34 159.69L613.54 158.23L613.73 156.75L613.93 155.23L614.12 153.68L614.32 152.11L614.52 150.51L614.71 148.89L614.91 147.24L615.1 145.57L615.3 143.88L615.5 142.17L615.69 140.44L615.89 138.69L616.08 136.92L616.28 135.14L616.48 133.35L616.67 131.55L616.87 129.73L617.06 127.91L617.26 126.08L617.46 124.24L617.65 122.4L617.85 120.56L618.04 118.71L618.24 116.86L618.44 115.02L618.63 113.18L618.83 111.34L619.02 109.51L619.22 107.68L619.42 105.87L619.61 104.06L619.81 102.27L620 100.49L620.2 98.72L620.4 96.97L620.59 95.24L620.79 93.52L620.98 91.83L621.18 90.15L621.38 88.51L621.57 86.88L621.77 85.28L621.96 83.71L622.16 82.17L622.36 80.65L622.55 79.17L622.75 77.72L622.94 76.3L623.14 74.92L623.34 73.57L623.53 72.26L623.73 70.99L623.92 69.75L624.12 68.56L624.32 67.41L624.51 66.3L624.71 65.23L624.9 64.21L625.1 63.23L625.3 62.3L625.49 61.41L625.69 60.57L625.88 59.78L626.08 59.04L626.28 58.34L626.47 57.7L626.67 57.1L626.86 56.56L627.06 56.07L627.26 55.63L627.45 55.24L627.65 54.9L627.84 54.62L628.04 54.39L628.24 54.21L628.43 54.09L628.63 54.02L628.82 54L629.02 54.04L629.22 54.12L629.41 54.27L629.61 54.46L629.8 54.71L630 55.01L630.2 55.37L630.39 55.78L630.59 56.23L630.78 56.74L630.98 57.3L631.18 57.92L631.37 58.58L631.57 59.29L631.76 60.05L631.96 60.86L632.16 61.71L632.35 62.62L632.55 63.57L632.74 64.56L632.94 65.6L633.14 66.68L633.33 67.81L633.53 68.97L633.72 70.18L633.92 71.43L634.12 72.71L634.31 74.04L634.51 75.4L634.7 76.79L634.9 78.22L635.1 79.68L635.29 81.18L635.49 82.7L635.68 84.26L635.88 85.84L636.08 87.45L636.27 89.08L636.47 90.74L636.66 92.42L636.86 94.12L637.06 95.84L637.25 97.58L637.45 99.34L637.64 101.11L637.84 102.89L638.04 104.69L638.23 106.5L638.43 108.32L638.62 110.15L638.82 111.98L639.02 113.82L639.21 115.67L639.41 117.51L639.6 119.36L639.8 121.2L640 123.05L640.19 124.89L640.39 126.72L640.58 128.55L640.78 130.37L640.98 132.18L641.17 133.98L641.37 135.77L641.56 137.54L641.76 139.3L641.96 141.04L642.15 142.77L642.35 144.47L642.54 146.16L642.74 147.82L642.94 149.46L643.13 151.08L643.33 152.67L643.52 154.23L643.72 155.76L643.92 157.27L644.11 158.74L644.31 160.19L644.5 161.6L644.7 162.98L644.9 164.32L645.09 165.63L645.29 166.9L645.48 168.13L645.68 169.32L645.88 170.48L646.07 171.59L646.27 172.66L646.46 173.69L646.66 174.68L646.86 175.62L647.05 176.52L647.25 177.37L647.44 178.18L647.64 178.95L647.84 179.66L648.03 180.33L648.23 180.95L648.42 181.52L648.62 182.04L648.82 182.52L649.01 182.94L649.21 183.32L649.4 183.64L649.6 183.92L649.8 184.14L649.99 184.31L650.19 184.44L650.38 184.51L650.58 184.53L650.78 184.5L650.97 184.42L651.17 184.28L651.36 184.1L651.56 183.87L651.76 183.58L651.95 183.25L652.15 182.86L652.34 182.43L652.54 181.94L652.74 181.41L652.93 180.83L653.13 180.2L653.32 179.52L653.52 178.8L653.72 178.03L653.91 177.21L654.11 176.34L654.3 175.44L654.5 174.48L654.7 173.49L654.89 172.45L655.09 171.37L655.28 170.25L655.48 169.09L655.68 167.88L655.87 166.64L656.07 165.37L656.26 164.05L656.46 162.7L656.66 161.32L656.85 159.9L657.05 158.45L657.24 156.97L657.44 155.46L657.64 153.92L657.83 152.35L658.03 150.75L658.22 149.13L658.42 147.49L658.62 145.82L658.81 144.13L659.01 142.42L659.2 140.7L659.4 138.95L659.6 137.19L659.79 135.41L659.99 133.62L660.18 131.82L660.38 130.01L660.58 128.18L660.77 126.35L660.97 124.52L661.16 122.68L661.36 120.83L661.56 118.99L661.75 117.14L661.95 115.3L662.14 113.45L662.34 111.62L662.54 109.78L662.73 107.96L662.93 106.14L663.12 104.33L663.32 102.53L663.52 100.75L663.71 98.98L663.91 97.23L664.1 95.49L664.3 93.78L664.5 92.08L664.69 90.4L664.89 88.75L665.08 87.12L665.28 85.52L665.48 83.94L665.67 82.4L665.87 80.88L666.06 79.39L666.26 77.93L666.46 76.51L666.65 75.12L666.85 73.77L667.04 72.45L667.24 71.18L667.44 69.94L667.63 68.74L667.83 67.58L668.02 66.46L668.22 65.39L668.42 64.36L668.61 63.37L668.81 62.43L669 61.54L669.2 60.69L669.4 59.89L669.59 59.14L669.79 58.44L669.98 57.79L670.18 57.19L670.38 56.64L670.57 56.14L670.77 55.69L670.96 55.29L671.16 54.95L671.36 54.66L671.55 54.42L671.75 54.23L671.94 54.1L672.14 54.02L672.34 54L672.53 54.03L672.73 54.11L672.92 54.24L673.12 54.43L673.32 54.67L673.51 54.97L673.71 55.31L673.9 55.71L674.1 56.16L674.3 56.66L674.49 57.22L674.69 57.82L674.88 58.48L675.08 59.18L675.28 59.93L675.47 60.73L675.67 61.58L675.86 62.48L676.06 63.42L676.26 64.41L676.45 65.44L676.65 66.52L676.84 67.64L677.04 68.8L677.24 70L677.43 71.24L677.63 72.52L677.82 73.84L678.02 75.19L678.22 76.58L678.41 78.01L678.61 79.46L678.8 80.95L679 82.47" stroke="#00ff00" stroke-width="1.5" fill="none" stroke-dasharray="1.3 1.2" clip-path="url(#clipb)"/>
<path d="M385 233v-3.0M385 4v3.0M434 233v-3.0M434 4v3.0M483 233v-3.0M483 4v3.0M532 233v-3.0M532 4v3.0M581 233v-3.0M581 4v3.0M630 233v-3.0M630 4v3.0M679 233v-3.0M679 4v3.0M385 233h3.0M679 233h-3.0M385 194.83h3.0M679 194.83h-3.0M385 156.67h3.0M679 156.67h-3.0M385 118.5h3.0M679 118.5h-3.0M385 80.33h3.0M679 80.33h-3.0M385 42.17h3.0M679 42.17h-3.0M385 4h3.0M679 4h-3.0" stroke="#1c1c1c" stroke-width="1.3" fill="none"/>
<rect x="389.2" y="218.4" width="285.7" height="13.8" fill="#fff" stroke="#1c1c1c" stroke-width="1.3"/>
<path d="M393.9 225.3H422.2" stroke="#0000ff" stroke-width="1.7"/>
<g clip-path="url(#legclip)"><text transform="translate(424.7 228.7) scale(1 1.12)" font-size="7.45" fill="#1c1c1c" stroke="#1c1c1c" stroke-width="0.12">IC 1: [0.011, 0.011]</text></g>
<path d="M491.4 225.3H498.1M503.1 225.3H508.9M513.9 225.3H520.3" stroke="#ff0000" stroke-width="1.55"/>
<g clip-path="url(#legclip)"><text transform="translate(522.6 228.7) scale(1 1.12)" font-size="7.45" fill="#1c1c1c" stroke="#1c1c1c" stroke-width="0.12">IC 2: [0.21, 0.21]</text></g>
<rect x="581.45" y="224.55" width="1.5" height="1.5" fill="#00ff00"/>
<rect x="584.19" y="224.55" width="1.5" height="1.5" fill="#00ff00"/>
<rect x="586.93" y="224.55" width="1.5" height="1.5" fill="#00ff00"/>
<rect x="589.67" y="224.55" width="1.5" height="1.5" fill="#00ff00"/>
<rect x="592.41" y="224.55" width="1.5" height="1.5" fill="#00ff00"/>
<rect x="595.15" y="224.55" width="1.5" height="1.5" fill="#00ff00"/>
<rect x="597.89" y="224.55" width="1.5" height="1.5" fill="#00ff00"/>
<rect x="600.63" y="224.55" width="1.5" height="1.5" fill="#00ff00"/>
<rect x="603.37" y="224.55" width="1.5" height="1.5" fill="#00ff00"/>
<rect x="606.11" y="224.55" width="1.5" height="1.5" fill="#00ff00"/>
<rect x="608.85" y="224.55" width="1.5" height="1.5" fill="#00ff00" opacity="0.35"/>
<g clip-path="url(#legclip)"><text transform="translate(611.5 228.7) scale(1 1.12)" font-size="7.45" fill="#1c1c1c" stroke="#1c1c1c" stroke-width="0.12">IC 3: [-0.11, -0.11]</text></g>
<rect x="385" y="4" width="294" height="229" fill="none" stroke="#1c1c1c" stroke-width="1.6"/>
<text x="380.9" y="237.8" font-size="11.3" text-anchor="end" fill="#1c1c1c" stroke="#1c1c1c" stroke-width="0.12">-0.15</text>
<text x="380.9" y="199.63" font-size="11.3" text-anchor="end" fill="#1c1c1c" stroke="#1c1c1c" stroke-width="0.12">-0.1</text>
<text x="380.9" y="161.47" font-size="11.3" text-anchor="end" fill="#1c1c1c" stroke="#1c1c1c" stroke-width="0.12">-0.05</text>
<text x="380.9" y="123.3" font-size="11.3" text-anchor="end" fill="#1c1c1c" stroke="#1c1c1c" stroke-width="0.12">0</text>
<text x="380.9" y="85.13" font-size="11.3" text-anchor="end" fill="#1c1c1c" stroke="#1c1c1c" stroke-width="0.12">0.05</text>
<text x="380.9" y="46.97" font-size="11.3" text-anchor="end" fill="#1c1c1c" stroke="#1c1c1c" stroke-width="0.12">0.1</text>
<text x="380.9" y="8.8" font-size="11.3" text-anchor="end" fill="#1c1c1c" stroke="#1c1c1c" stroke-width="0.12">0.15</text>
<text x="385" y="249.1" font-size="11.3" text-anchor="middle" fill="#1c1c1c" stroke="#1c1c1c" stroke-width="0.12">0</text>
<text x="434" y="249.1" font-size="11.3" text-anchor="middle" fill="#1c1c1c" stroke="#1c1c1c" stroke-width="0.12">5</text>
<text x="483" y="249.1" font-size="11.3" text-anchor="middle" fill="#1c1c1c" stroke="#1c1c1c" stroke-width="0.12">10</text>
<text x="532" y="249.1" font-size="11.3" text-anchor="middle" fill="#1c1c1c" stroke="#1c1c1c" stroke-width="0.12">15</text>
<text x="581" y="249.1" font-size="11.3" text-anchor="middle" fill="#1c1c1c" stroke="#1c1c1c" stroke-width="0.12">20</text>
<text x="630" y="249.1" font-size="11.3" text-anchor="middle" fill="#1c1c1c" stroke="#1c1c1c" stroke-width="0.12">25</text>
<text x="679" y="249.1" font-size="11.3" text-anchor="middle" fill="#1c1c1c" stroke="#1c1c1c" stroke-width="0.12">30</text>
<text x="531.8" y="263.6" font-size="11.5" text-anchor="middle" fill="#1c1c1c">Time</text>
<text transform="translate(350.5 118.5) rotate(-90)" font-size="11" font-weight="bold" text-anchor="middle" fill="#1c1c1c">F</text>
<text x="531.3" y="292" font-family="'Liberation Serif', serif" font-weight="bold" font-size="18.6" text-anchor="middle" fill="#000">(b)</text>
<path fill="#fff" d="M91.51 227.52L92.89 227.52L92.89 229.44L91.51 229.44ZM93.65 227.52L94.98 227.52L94.98 229.44L93.65 229.44ZM111.79 227.52L113.17 227.52L113.17 229.44L111.79 229.44ZM113.93 227.52L115.26 227.52L115.26 229.44L113.93 229.44ZM130.06 227.52L131.44 227.52L131.44 229.44L130.06 229.44ZM132.20 227.52L133.52 227.52L133.52 229.44L132.20 229.44ZM287.36 227.52L288.74 227.52L288.74 229.44L287.36 229.44ZM289.51 227.52L290.83 227.52L290.83 229.44L289.51 229.44ZM303.99 227.52L305.37 227.52L305.37 229.44L303.99 229.44ZM306.13 227.52L307.46 227.52L307.46 229.44L306.13 229.44ZM27.00 160.05L29.08 160.05L29.08 162.06L27.00 162.06ZM30.20 160.05L32.20 160.05L32.20 162.06L30.20 162.06ZM26.99 84.65L29.07 84.65L29.07 86.66L26.99 86.66ZM30.19 84.65L32.18 84.65L32.18 86.66L30.19 86.66ZM127.88 246.95L129.96 246.95L129.96 248.96L127.88 248.96ZM131.08 246.95L133.07 246.95L133.07 248.96L131.08 248.96ZM176.26 246.95L178.34 246.95L178.34 248.96L176.26 248.96ZM179.46 246.95L181.45 246.95L181.45 248.96L179.46 248.96ZM434.61 227.51L436.01 227.51L436.01 229.44L434.61 229.44ZM436.79 227.51L438.14 227.51L438.14 229.44L436.79 229.44ZM455.28 227.51L456.69 227.51L456.69 229.44L455.28 229.44ZM457.46 227.51L458.81 227.51L458.81 229.44L457.46 229.44ZM458.86 227.51L460.26 227.51L460.26 229.44L458.86 229.44ZM461.04 227.51L462.39 227.51L462.39 229.44L461.04 229.44ZM477.47 227.51L478.87 227.51L478.87 229.44L477.47 229.44ZM479.65 227.51L481.00 227.51L481.00 229.44L479.65 229.44ZM481.06 227.51L482.47 227.51L482.47 229.44L481.06 229.44ZM483.24 227.51L484.59 227.51L484.59 229.44L483.24 229.44ZM553.18 227.51L554.59 227.51L554.59 229.44L553.18 229.44ZM555.36 227.51L556.71 227.51L556.71 229.44L555.36 229.44ZM571.79 227.51L573.19 227.51L573.19 229.44L571.79 229.44ZM573.97 227.51L575.32 227.51L575.32 229.44L573.97 229.44ZM640.42 227.51L641.83 227.51L641.83 229.44L640.42 229.44ZM642.61 227.51L643.96 227.51L643.96 229.44L642.61 229.44ZM644.00 227.51L645.41 227.51L645.41 229.44L644.00 229.44ZM646.19 227.51L647.53 227.51L647.53 229.44L646.19 229.44ZM660.95 227.51L662.36 227.51L662.36 229.44L660.95 229.44ZM663.14 227.51L664.49 227.51L664.49 229.44L663.14 229.44ZM664.53 227.51L665.94 227.51L665.94 229.44L664.53 229.44ZM666.72 227.51L668.06 227.51L668.06 229.44L666.72 229.44ZM369.02 236.45L371.10 236.45L371.10 238.46L369.02 238.46ZM372.22 236.45L374.21 236.45L374.21 238.46L372.22 238.46ZM375.30 198.28L377.38 198.28L377.38 200.29L375.30 200.29ZM378.50 198.28L380.50 198.28L380.50 200.29L378.50 200.29ZM375.29 45.62L377.37 45.62L377.37 47.63L375.29 47.63ZM378.49 45.62L380.48 45.62L380.48 47.63L378.49 47.63ZM369.01 7.45L371.09 7.45L371.09 9.46L369.01 9.46ZM372.21 7.45L374.20 7.45L374.20 9.46L372.21 9.46ZM477.41 247.75L479.49 247.75L479.49 249.76L477.41 249.76ZM480.61 247.75L482.60 247.75L482.60 249.76L480.61 249.76ZM526.41 247.75L528.49 247.75L528.49 249.76L526.41 249.76ZM529.61 247.75L531.60 247.75L531.60 249.76L529.61 249.76Z"/>
</g></svg>
</body></html>
